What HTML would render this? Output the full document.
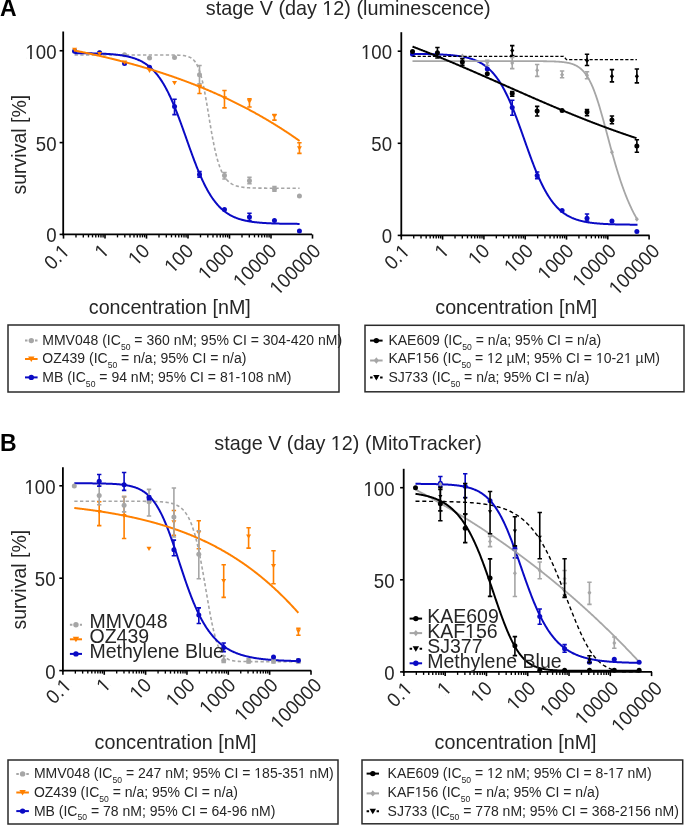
<!DOCTYPE html>
<html><head><meta charset="utf-8"><style>html,body{margin:0;padding:0;background:#fff}svg{display:block;will-change:transform}</style></head>
<body>
<svg width="685" height="825" viewBox="0 0 685 825" style="font-family:&quot;Liberation Sans&quot;,sans-serif">
<rect width="685" height="825" fill="#fff"/>
<text x="0" y="16.3" font-size="23" font-weight="bold" fill="#000">A</text>
<text x="348.2" y="15" text-anchor="middle" font-size="19.8" fill="#262626">stage V (day 12) (luminescence)</text>
<text x="0" y="450.5" font-size="23" font-weight="bold" fill="#000">B</text>
<text x="348" y="449.5" text-anchor="middle" font-size="19.8" fill="#262626">stage V (day 12) (MitoTracker)</text>
<path d="M63.2,31.5 V235.3" stroke="#000" stroke-width="1.8" fill="none"/>
<path d="M59.6,234.4 H63.2" stroke="#000" stroke-width="1.6"/>
<path d="M59.6,142.6 H63.2" stroke="#000" stroke-width="1.6"/>
<path d="M59.6,50.75 H63.2" stroke="#000" stroke-width="1.6"/>
<path d="M62.2,234.4 H312" stroke="#000" stroke-width="1.8"/>
<path d="M63.50,234.4 v4.2" stroke="#000" stroke-width="1.6"/>
<path d="M75.99,234.4 v3.0" stroke="#000" stroke-width="1.35"/>
<path d="M83.30,234.4 v3.0" stroke="#000" stroke-width="1.35"/>
<path d="M88.49,234.4 v3.0" stroke="#000" stroke-width="1.35"/>
<path d="M92.51,234.4 v3.0" stroke="#000" stroke-width="1.35"/>
<path d="M95.79,234.4 v3.0" stroke="#000" stroke-width="1.35"/>
<path d="M98.57,234.4 v3.0" stroke="#000" stroke-width="1.35"/>
<path d="M100.98,234.4 v3.0" stroke="#000" stroke-width="1.35"/>
<path d="M103.10,234.4 v3.0" stroke="#000" stroke-width="1.35"/>
<path d="M105.00,234.4 v4.2" stroke="#000" stroke-width="1.6"/>
<path d="M117.49,234.4 v3.0" stroke="#000" stroke-width="1.35"/>
<path d="M124.80,234.4 v3.0" stroke="#000" stroke-width="1.35"/>
<path d="M129.99,234.4 v3.0" stroke="#000" stroke-width="1.35"/>
<path d="M134.01,234.4 v3.0" stroke="#000" stroke-width="1.35"/>
<path d="M137.29,234.4 v3.0" stroke="#000" stroke-width="1.35"/>
<path d="M140.07,234.4 v3.0" stroke="#000" stroke-width="1.35"/>
<path d="M142.48,234.4 v3.0" stroke="#000" stroke-width="1.35"/>
<path d="M144.60,234.4 v3.0" stroke="#000" stroke-width="1.35"/>
<path d="M146.50,234.4 v4.2" stroke="#000" stroke-width="1.6"/>
<path d="M158.99,234.4 v3.0" stroke="#000" stroke-width="1.35"/>
<path d="M166.30,234.4 v3.0" stroke="#000" stroke-width="1.35"/>
<path d="M171.49,234.4 v3.0" stroke="#000" stroke-width="1.35"/>
<path d="M175.51,234.4 v3.0" stroke="#000" stroke-width="1.35"/>
<path d="M178.79,234.4 v3.0" stroke="#000" stroke-width="1.35"/>
<path d="M181.57,234.4 v3.0" stroke="#000" stroke-width="1.35"/>
<path d="M183.98,234.4 v3.0" stroke="#000" stroke-width="1.35"/>
<path d="M186.10,234.4 v3.0" stroke="#000" stroke-width="1.35"/>
<path d="M188.00,234.4 v4.2" stroke="#000" stroke-width="1.6"/>
<path d="M200.49,234.4 v3.0" stroke="#000" stroke-width="1.35"/>
<path d="M207.80,234.4 v3.0" stroke="#000" stroke-width="1.35"/>
<path d="M212.99,234.4 v3.0" stroke="#000" stroke-width="1.35"/>
<path d="M217.01,234.4 v3.0" stroke="#000" stroke-width="1.35"/>
<path d="M220.29,234.4 v3.0" stroke="#000" stroke-width="1.35"/>
<path d="M223.07,234.4 v3.0" stroke="#000" stroke-width="1.35"/>
<path d="M225.48,234.4 v3.0" stroke="#000" stroke-width="1.35"/>
<path d="M227.60,234.4 v3.0" stroke="#000" stroke-width="1.35"/>
<path d="M229.50,234.4 v4.2" stroke="#000" stroke-width="1.6"/>
<path d="M241.99,234.4 v3.0" stroke="#000" stroke-width="1.35"/>
<path d="M249.30,234.4 v3.0" stroke="#000" stroke-width="1.35"/>
<path d="M254.49,234.4 v3.0" stroke="#000" stroke-width="1.35"/>
<path d="M258.51,234.4 v3.0" stroke="#000" stroke-width="1.35"/>
<path d="M261.79,234.4 v3.0" stroke="#000" stroke-width="1.35"/>
<path d="M264.57,234.4 v3.0" stroke="#000" stroke-width="1.35"/>
<path d="M266.98,234.4 v3.0" stroke="#000" stroke-width="1.35"/>
<path d="M269.10,234.4 v3.0" stroke="#000" stroke-width="1.35"/>
<path d="M271.00,234.4 v4.2" stroke="#000" stroke-width="1.6"/>
<path d="M312.50,234.4 v4.2" stroke="#000" stroke-width="1.6"/>
<text transform="translate(56.5,242.30) scale(0.94,1)" text-anchor="end" font-size="19.8" fill="#262626">0</text>
<text transform="translate(56.5,150.50) scale(0.94,1)" text-anchor="end" font-size="19.8" fill="#262626">50</text>
<text transform="translate(56.5,58.65) scale(0.94,1)" text-anchor="end" font-size="19.8" fill="#262626">100</text>
<g transform="translate(56.5,58.65) scale(0.94,1)" fill="#fff"><rect x="-32.13" y="-2.08" width="4.02" height="2.78"/><rect x="-26.26" y="-2.08" width="3.87" height="2.78"/></g>
<text transform="translate(70.50,252.50) rotate(-45) scale(0.94,1)" text-anchor="end" font-size="19.8" fill="#262626">0.1</text>
<g transform="translate(70.50,252.50) rotate(-45) scale(0.94,1)" fill="#fff"><rect x="-10.10" y="-2.08" width="4.02" height="2.78"/><rect x="-4.23" y="-2.08" width="3.87" height="2.78"/></g>
<text transform="translate(110.00,252.10) rotate(-45) scale(0.94,1)" text-anchor="end" font-size="19.8" fill="#262626">1</text>
<g transform="translate(110.00,252.10) rotate(-45) scale(0.94,1)" fill="#fff"><rect x="-10.10" y="-2.08" width="4.02" height="2.78"/><rect x="-4.23" y="-2.08" width="3.87" height="2.78"/></g>
<text transform="translate(150.90,252.20) rotate(-45) scale(0.94,1)" text-anchor="end" font-size="19.8" fill="#262626">10</text>
<g transform="translate(150.90,252.20) rotate(-45) scale(0.94,1)" fill="#fff"><rect x="-21.12" y="-2.08" width="4.02" height="2.78"/><rect x="-15.24" y="-2.08" width="3.87" height="2.78"/></g>
<text transform="translate(194.50,252.30) rotate(-45) scale(0.94,1)" text-anchor="end" font-size="19.8" fill="#262626">100</text>
<g transform="translate(194.50,252.30) rotate(-45) scale(0.94,1)" fill="#fff"><rect x="-32.13" y="-2.08" width="4.02" height="2.78"/><rect x="-26.26" y="-2.08" width="3.87" height="2.78"/></g>
<text transform="translate(235.40,252.30) rotate(-45) scale(0.94,1)" text-anchor="end" font-size="19.8" fill="#262626">1000</text>
<g transform="translate(235.40,252.30) rotate(-45) scale(0.94,1)" fill="#fff"><rect x="-43.14" y="-2.08" width="4.02" height="2.78"/><rect x="-37.27" y="-2.08" width="3.87" height="2.78"/></g>
<text transform="translate(277.90,252.30) rotate(-45) scale(0.94,1)" text-anchor="end" font-size="19.8" fill="#262626">10000</text>
<g transform="translate(277.90,252.30) rotate(-45) scale(0.94,1)" fill="#fff"><rect x="-54.15" y="-2.08" width="4.02" height="2.78"/><rect x="-48.28" y="-2.08" width="3.87" height="2.78"/></g>
<text transform="translate(321.70,252.30) rotate(-45) scale(0.94,1)" text-anchor="end" font-size="19.8" fill="#262626">100000</text>
<g transform="translate(321.70,252.30) rotate(-45) scale(0.94,1)" fill="#fff"><rect x="-65.16" y="-2.08" width="4.02" height="2.78"/><rect x="-59.29" y="-2.08" width="3.87" height="2.78"/></g>
<path d="M74.60,54.97 L75.10,54.97 L75.60,54.97 L76.10,54.97 L76.60,54.97 L77.10,54.97 L77.60,54.97 L78.10,54.97 L78.60,54.97 L79.10,54.97 L79.60,54.97 L80.10,54.97 L80.60,54.97 L81.10,54.97 L81.60,54.97 L82.10,54.97 L82.60,54.97 L83.10,54.97 L83.60,54.97 L84.10,54.97 L84.60,54.97 L85.10,54.97 L85.60,54.97 L86.10,54.97 L86.60,54.97 L87.10,54.97 L87.60,54.97 L88.10,54.97 L88.60,54.97 L89.10,54.97 L89.60,54.97 L90.10,54.97 L90.60,54.97 L91.10,54.97 L91.60,54.97 L92.10,54.97 L92.60,54.97 L93.10,54.97 L93.60,54.97 L94.10,54.97 L94.60,54.97 L95.10,54.97 L95.60,54.97 L96.10,54.97 L96.60,54.97 L97.10,54.97 L97.60,54.97 L98.10,54.97 L98.60,54.97 L99.10,54.97 L99.60,54.97 L100.10,54.97 L100.60,54.97 L101.10,54.97 L101.60,54.97 L102.10,54.97 L102.60,54.97 L103.10,54.97 L103.60,54.97 L104.10,54.97 L104.60,54.97 L105.10,54.97 L105.60,54.97 L106.10,54.97 L106.60,54.97 L107.10,54.97 L107.60,54.97 L108.10,54.97 L108.60,54.97 L109.10,54.97 L109.60,54.97 L110.10,54.97 L110.60,54.97 L111.10,54.97 L111.60,54.97 L112.10,54.97 L112.60,54.97 L113.10,54.97 L113.60,54.97 L114.10,54.97 L114.60,54.97 L115.10,54.97 L115.60,54.97 L116.10,54.97 L116.60,54.97 L117.10,54.97 L117.60,54.97 L118.10,54.97 L118.60,54.97 L119.10,54.97 L119.60,54.97 L120.10,54.97 L120.60,54.97 L121.10,54.97 L121.60,54.97 L122.10,54.97 L122.60,54.97 L123.10,54.97 L123.60,54.97 L124.10,54.97 L124.60,54.97 L125.10,54.97 L125.60,54.97 L126.10,54.97 L126.60,54.97 L127.10,54.97 L127.60,54.97 L128.10,54.97 L128.60,54.97 L129.10,54.97 L129.60,54.97 L130.10,54.97 L130.60,54.97 L131.10,54.97 L131.60,54.97 L132.10,54.97 L132.60,54.97 L133.10,54.97 L133.60,54.97 L134.10,54.97 L134.60,54.97 L135.10,54.97 L135.60,54.97 L136.10,54.97 L136.60,54.97 L137.10,54.97 L137.60,54.97 L138.10,54.97 L138.60,54.97 L139.10,54.97 L139.60,54.97 L140.10,54.97 L140.60,54.97 L141.10,54.97 L141.60,54.97 L142.10,54.97 L142.60,54.97 L143.10,54.97 L143.60,54.97 L144.10,54.97 L144.60,54.97 L145.10,54.97 L145.60,54.97 L146.10,54.97 L146.60,54.97 L147.10,54.97 L147.60,54.97 L148.10,54.97 L148.60,54.97 L149.10,54.97 L149.60,54.97 L150.10,54.97 L150.60,54.97 L151.10,54.97 L151.60,54.97 L152.10,54.97 L152.60,54.97 L153.10,54.97 L153.60,54.97 L154.10,54.97 L154.60,54.97 L155.10,54.97 L155.60,54.97 L156.10,54.97 L156.60,54.97 L157.10,54.97 L157.60,54.97 L158.10,54.97 L158.60,54.97 L159.10,54.97 L159.60,54.97 L160.10,54.97 L160.60,54.97 L161.10,54.97 L161.60,54.97 L162.10,54.97 L162.60,54.97 L163.10,54.98 L163.60,54.98 L164.10,54.98 L164.60,54.98 L165.10,54.98 L165.60,54.98 L166.10,54.98 L166.60,54.98 L167.10,54.99 L167.60,54.99 L168.10,54.99 L168.60,54.99 L169.10,55.00 L169.60,55.00 L170.10,55.00 L170.60,55.01 L171.10,55.01 L171.60,55.01 L172.10,55.02 L172.60,55.03 L173.10,55.03 L173.60,55.04 L174.10,55.05 L174.60,55.06 L175.10,55.07 L175.60,55.08 L176.10,55.09 L176.60,55.11 L177.10,55.12 L177.60,55.14 L178.10,55.16 L178.60,55.18 L179.10,55.20 L179.60,55.23 L180.10,55.26 L180.60,55.29 L181.10,55.33 L181.60,55.37 L182.10,55.41 L182.60,55.46 L183.10,55.52 L183.60,55.58 L184.10,55.65 L184.60,55.73 L185.10,55.81 L185.60,55.91 L186.10,56.01 L186.60,56.13 L187.10,56.26 L187.60,56.40 L188.10,56.56 L188.60,56.74 L189.10,56.94 L189.60,57.15 L190.10,57.40 L190.60,57.66 L191.10,57.96 L191.60,58.29 L192.10,58.65 L192.60,59.05 L193.10,59.49 L193.60,59.98 L194.10,60.52 L194.60,61.11 L195.10,61.76 L195.60,62.47 L196.10,63.26 L196.60,64.11 L197.10,65.05 L197.60,66.07 L198.10,67.18 L198.60,68.39 L199.10,69.69 L199.60,71.11 L200.10,72.63 L200.60,74.27 L201.10,76.02 L201.60,77.89 L202.10,79.88 L202.60,81.99 L203.10,84.22 L203.60,86.57 L204.10,89.02 L204.60,91.58 L205.10,94.24 L205.60,96.99 L206.10,99.82 L206.60,102.71 L207.10,105.66 L207.60,108.65 L208.10,111.68 L208.60,114.71 L209.10,117.75 L209.60,120.78 L210.10,123.78 L210.60,126.75 L211.10,129.67 L211.60,132.53 L212.10,135.32 L212.60,138.04 L213.10,140.67 L213.60,143.22 L214.10,145.68 L214.60,148.05 L215.10,150.31 L215.60,152.49 L216.10,154.56 L216.60,156.54 L217.10,158.42 L217.60,160.20 L218.10,161.90 L218.60,163.50 L219.10,165.02 L219.60,166.45 L220.10,167.81 L220.60,169.08 L221.10,170.28 L221.60,171.42 L222.10,172.48 L222.60,173.48 L223.10,174.42 L223.60,175.30 L224.10,176.13 L224.60,176.91 L225.10,177.64 L225.60,178.32 L226.10,178.96 L226.60,179.56 L227.10,180.12 L227.60,180.64 L228.10,181.14 L228.60,181.60 L229.10,182.03 L229.60,182.43 L230.10,182.81 L230.60,183.16 L231.10,183.49 L231.60,183.80 L232.10,184.09 L232.60,184.36 L233.10,184.61 L233.60,184.85 L234.10,185.07 L234.60,185.27 L235.10,185.47 L235.60,185.65 L236.10,185.82 L236.60,185.97 L237.10,186.12 L237.60,186.26 L238.10,186.39 L238.60,186.51 L239.10,186.62 L239.60,186.72 L240.10,186.82 L240.60,186.91 L241.10,187.00 L241.60,187.08 L242.10,187.15 L242.60,187.22 L243.10,187.29 L243.60,187.35 L244.10,187.41 L244.60,187.46 L245.10,187.51 L245.60,187.56 L246.10,187.60 L246.60,187.64 L247.10,187.68 L247.60,187.71 L248.10,187.75 L248.60,187.78 L249.10,187.81 L249.60,187.83 L250.10,187.86 L250.60,187.88 L251.10,187.90 L251.60,187.92 L252.10,187.94 L252.60,187.96 L253.10,187.98 L253.60,187.99 L254.10,188.01 L254.60,188.02 L255.10,188.03 L255.60,188.05 L256.10,188.06 L256.60,188.07 L257.10,188.08 L257.60,188.09 L258.10,188.10 L258.60,188.10 L259.10,188.11 L259.60,188.12 L260.10,188.12 L260.60,188.13 L261.10,188.14 L261.60,188.14 L262.10,188.15 L262.60,188.15 L263.10,188.16 L263.60,188.16 L264.10,188.16 L264.60,188.17 L265.10,188.17 L265.60,188.17 L266.10,188.18 L266.60,188.18 L267.10,188.18 L267.60,188.18 L268.10,188.19 L268.60,188.19 L269.10,188.19 L269.60,188.19 L270.10,188.19 L270.60,188.19 L271.10,188.20 L271.60,188.20 L272.10,188.20 L272.60,188.20 L273.10,188.20 L273.60,188.20 L274.10,188.20 L274.60,188.20 L275.10,188.21 L275.60,188.21 L276.10,188.21 L276.60,188.21 L277.10,188.21 L277.60,188.21 L278.10,188.21 L278.60,188.21 L279.10,188.21 L279.60,188.21 L280.10,188.21 L280.60,188.21 L281.10,188.21 L281.60,188.21 L282.10,188.21 L282.60,188.21 L283.10,188.21 L283.60,188.21 L284.10,188.21 L284.60,188.21 L285.10,188.21 L285.60,188.21 L286.10,188.21 L286.60,188.21 L287.10,188.21 L287.60,188.21 L288.10,188.22 L288.60,188.22 L289.10,188.22 L289.60,188.22 L290.10,188.22 L290.60,188.22 L291.10,188.22 L291.60,188.22 L292.10,188.22 L292.60,188.22 L293.10,188.22 L293.60,188.22 L294.10,188.22 L294.60,188.22 L295.10,188.22 L295.60,188.22 L296.10,188.22 L296.60,188.22 L297.10,188.22 L297.60,188.22 L298.10,188.22 L298.60,188.22 L299.10,188.22 L299.60,188.22" fill="none" stroke="#a6a6a6" stroke-width="1.6" stroke-dasharray="3.3,2.4" stroke-linejoin="round"/>
<path d="M199.50,65.50 V83.90 M197.30,65.50 H201.70 M197.30,83.90 H201.70" stroke="#a6a6a6" stroke-width="1.6" fill="none"/>
<path d="M224.48,172.50 V179.00 M222.28,172.50 H226.68 M222.28,179.00 H226.68" stroke="#a6a6a6" stroke-width="1.6" fill="none"/>
<path d="M249.46,177.40 V183.70 M247.26,177.40 H251.66 M247.26,183.70 H251.66" stroke="#a6a6a6" stroke-width="1.6" fill="none"/>
<path d="M274.44,186.50 V191.20 M272.24,186.50 H276.64 M272.24,191.20 H276.64" stroke="#a6a6a6" stroke-width="1.6" fill="none"/>
<circle cx="74.60" cy="50.75" r="2.5" fill="#a6a6a6"/>
<circle cx="99.58" cy="52.70" r="2.5" fill="#a6a6a6"/>
<circle cx="124.56" cy="54.70" r="2.5" fill="#a6a6a6"/>
<circle cx="149.54" cy="58.00" r="2.5" fill="#a6a6a6"/>
<circle cx="174.52" cy="57.40" r="2.5" fill="#a6a6a6"/>
<circle cx="199.50" cy="74.70" r="2.5" fill="#a6a6a6"/>
<circle cx="224.48" cy="175.50" r="2.5" fill="#a6a6a6"/>
<circle cx="249.46" cy="180.70" r="2.5" fill="#a6a6a6"/>
<circle cx="274.44" cy="188.90" r="2.5" fill="#a6a6a6"/>
<circle cx="299.42" cy="195.90" r="2.5" fill="#a6a6a6"/>
<path d="M74.60,53.14 L75.10,53.14 L75.60,53.14 L76.10,53.15 L76.60,53.15 L77.10,53.16 L77.60,53.16 L78.10,53.16 L78.60,53.17 L79.10,53.17 L79.60,53.18 L80.10,53.18 L80.60,53.19 L81.10,53.19 L81.60,53.20 L82.10,53.20 L82.60,53.21 L83.10,53.22 L83.60,53.22 L84.10,53.23 L84.60,53.24 L85.10,53.24 L85.60,53.25 L86.10,53.26 L86.60,53.26 L87.10,53.27 L87.60,53.28 L88.10,53.29 L88.60,53.30 L89.10,53.31 L89.60,53.32 L90.10,53.32 L90.60,53.33 L91.10,53.34 L91.60,53.35 L92.10,53.37 L92.60,53.38 L93.10,53.39 L93.60,53.40 L94.10,53.41 L94.60,53.43 L95.10,53.44 L95.60,53.45 L96.10,53.47 L96.60,53.48 L97.10,53.50 L97.60,53.51 L98.10,53.53 L98.60,53.54 L99.10,53.56 L99.60,53.58 L100.10,53.60 L100.60,53.62 L101.10,53.64 L101.60,53.66 L102.10,53.68 L102.60,53.70 L103.10,53.72 L103.60,53.74 L104.10,53.77 L104.60,53.79 L105.10,53.82 L105.60,53.84 L106.10,53.87 L106.60,53.90 L107.10,53.93 L107.60,53.96 L108.10,53.99 L108.60,54.02 L109.10,54.06 L109.60,54.09 L110.10,54.12 L110.60,54.16 L111.10,54.20 L111.60,54.24 L112.10,54.28 L112.60,54.32 L113.10,54.36 L113.60,54.41 L114.10,54.45 L114.60,54.50 L115.10,54.55 L115.60,54.60 L116.10,54.65 L116.60,54.71 L117.10,54.76 L117.60,54.82 L118.10,54.88 L118.60,54.94 L119.10,55.00 L119.60,55.07 L120.10,55.14 L120.60,55.21 L121.10,55.28 L121.60,55.35 L122.10,55.43 L122.60,55.51 L123.10,55.59 L123.60,55.68 L124.10,55.77 L124.60,55.86 L125.10,55.95 L125.60,56.05 L126.10,56.15 L126.60,56.25 L127.10,56.35 L127.60,56.46 L128.10,56.58 L128.60,56.69 L129.10,56.81 L129.60,56.94 L130.10,57.07 L130.60,57.20 L131.10,57.34 L131.60,57.48 L132.10,57.62 L132.60,57.77 L133.10,57.93 L133.60,58.09 L134.10,58.25 L134.60,58.42 L135.10,58.60 L135.60,58.78 L136.10,58.97 L136.60,59.16 L137.10,59.36 L137.60,59.56 L138.10,59.77 L138.60,59.99 L139.10,60.22 L139.60,60.45 L140.10,60.69 L140.60,60.93 L141.10,61.18 L141.60,61.44 L142.10,61.71 L142.60,61.99 L143.10,62.28 L143.60,62.57 L144.10,62.87 L144.60,63.18 L145.10,63.50 L145.60,63.83 L146.10,64.17 L146.60,64.52 L147.10,64.88 L147.60,65.25 L148.10,65.64 L148.60,66.03 L149.10,66.43 L149.60,66.84 L150.10,67.27 L150.60,67.71 L151.10,68.16 L151.60,68.62 L152.10,69.10 L152.60,69.59 L153.10,70.09 L153.60,70.60 L154.10,71.13 L154.60,71.67 L155.10,72.23 L155.60,72.80 L156.10,73.39 L156.60,73.99 L157.10,74.61 L157.60,75.24 L158.10,75.89 L158.60,76.55 L159.10,77.23 L159.60,77.92 L160.10,78.64 L160.60,79.37 L161.10,80.11 L161.60,80.87 L162.10,81.65 L162.60,82.45 L163.10,83.27 L163.60,84.10 L164.10,84.95 L164.60,85.82 L165.10,86.70 L165.60,87.61 L166.10,88.53 L166.60,89.47 L167.10,90.43 L167.60,91.40 L168.10,92.40 L168.60,93.41 L169.10,94.44 L169.60,95.49 L170.10,96.55 L170.60,97.64 L171.10,98.74 L171.60,99.85 L172.10,100.99 L172.60,102.14 L173.10,103.30 L173.60,104.49 L174.10,105.68 L174.60,106.90 L175.10,108.13 L175.60,109.37 L176.10,110.63 L176.60,111.90 L177.10,113.18 L177.60,114.48 L178.10,115.79 L178.60,117.11 L179.10,118.44 L179.60,119.78 L180.10,121.13 L180.60,122.50 L181.10,123.86 L181.60,125.24 L182.10,126.63 L182.60,128.02 L183.10,129.41 L183.60,130.81 L184.10,132.22 L184.60,133.63 L185.10,135.04 L185.60,136.45 L186.10,137.87 L186.60,139.28 L187.10,140.70 L187.60,142.11 L188.10,143.52 L188.60,144.93 L189.10,146.33 L189.60,147.73 L190.10,149.13 L190.60,150.52 L191.10,151.90 L191.60,153.28 L192.10,154.65 L192.60,156.01 L193.10,157.36 L193.60,158.70 L194.10,160.03 L194.60,161.35 L195.10,162.66 L195.60,163.95 L196.10,165.24 L196.60,166.51 L197.10,167.76 L197.60,169.00 L198.10,170.23 L198.60,171.44 L199.10,172.64 L199.60,173.82 L200.10,174.99 L200.60,176.14 L201.10,177.27 L201.60,178.38 L202.10,179.48 L202.60,180.56 L203.10,181.63 L203.60,182.67 L204.10,183.70 L204.60,184.71 L205.10,185.70 L205.60,186.68 L206.10,187.63 L206.60,188.57 L207.10,189.49 L207.60,190.40 L208.10,191.28 L208.60,192.15 L209.10,193.00 L209.60,193.83 L210.10,194.64 L210.60,195.44 L211.10,196.21 L211.60,196.98 L212.10,197.72 L212.60,198.45 L213.10,199.16 L213.60,199.85 L214.10,200.53 L214.60,201.19 L215.10,201.84 L215.60,202.47 L216.10,203.08 L216.60,203.68 L217.10,204.27 L217.60,204.84 L218.10,205.39 L218.60,205.94 L219.10,206.46 L219.60,206.98 L220.10,207.48 L220.60,207.96 L221.10,208.44 L221.60,208.90 L222.10,209.35 L222.60,209.79 L223.10,210.21 L223.60,210.62 L224.10,211.03 L224.60,211.42 L225.10,211.80 L225.60,212.17 L226.10,212.53 L226.60,212.87 L227.10,213.21 L227.60,213.54 L228.10,213.86 L228.60,214.17 L229.10,214.48 L229.60,214.77 L230.10,215.05 L230.60,215.33 L231.10,215.60 L231.60,215.86 L232.10,216.11 L232.60,216.35 L233.10,216.59 L233.60,216.82 L234.10,217.05 L234.60,217.26 L235.10,217.47 L235.60,217.68 L236.10,217.88 L236.60,218.07 L237.10,218.25 L237.60,218.44 L238.10,218.61 L238.60,218.78 L239.10,218.94 L239.60,219.10 L240.10,219.26 L240.60,219.41 L241.10,219.55 L241.60,219.69 L242.10,219.83 L242.60,219.96 L243.10,220.09 L243.60,220.21 L244.10,220.33 L244.60,220.45 L245.10,220.56 L245.60,220.67 L246.10,220.78 L246.60,220.88 L247.10,220.98 L247.60,221.08 L248.10,221.17 L248.60,221.26 L249.10,221.35 L249.60,221.43 L250.10,221.51 L250.60,221.59 L251.10,221.67 L251.60,221.74 L252.10,221.82 L252.60,221.89 L253.10,221.95 L253.60,222.02 L254.10,222.08 L254.60,222.14 L255.10,222.20 L255.60,222.26 L256.10,222.32 L256.60,222.37 L257.10,222.42 L257.60,222.47 L258.10,222.52 L258.60,222.57 L259.10,222.61 L259.60,222.66 L260.10,222.70 L260.60,222.74 L261.10,222.78 L261.60,222.82 L262.10,222.86 L262.60,222.90 L263.10,222.93 L263.60,222.97 L264.10,223.00 L264.60,223.03 L265.10,223.06 L265.60,223.09 L266.10,223.12 L266.60,223.15 L267.10,223.18 L267.60,223.20 L268.10,223.23 L268.60,223.25 L269.10,223.28 L269.60,223.30 L270.10,223.32 L270.60,223.34 L271.10,223.36 L271.60,223.38 L272.10,223.40 L272.60,223.42 L273.10,223.44 L273.60,223.46 L274.10,223.47 L274.60,223.49 L275.10,223.51 L275.60,223.52 L276.10,223.54 L276.60,223.55 L277.10,223.57 L277.60,223.58 L278.10,223.59 L278.60,223.61 L279.10,223.62 L279.60,223.63 L280.10,223.64 L280.60,223.65 L281.10,223.66 L281.60,223.67 L282.10,223.68 L282.60,223.69 L283.10,223.70 L283.60,223.71 L284.10,223.72 L284.60,223.73 L285.10,223.74 L285.60,223.75 L286.10,223.75 L286.60,223.76 L287.10,223.77 L287.60,223.78 L288.10,223.78 L288.60,223.79 L289.10,223.80 L289.60,223.80 L290.10,223.81 L290.60,223.81 L291.10,223.82 L291.60,223.82 L292.10,223.83 L292.60,223.83 L293.10,223.84 L293.60,223.84 L294.10,223.85 L294.60,223.85 L295.10,223.86 L295.60,223.86 L296.10,223.87 L296.60,223.87 L297.10,223.87 L297.60,223.88 L298.10,223.88 L298.60,223.88 L299.10,223.89 L299.60,223.89" fill="none" stroke="#0a0ac4" stroke-width="2.0" stroke-linejoin="round"/>
<path d="M174.52,99.30 V114.60 M172.32,99.30 H176.72 M172.32,114.60 H176.72" stroke="#0a0ac4" stroke-width="1.6" fill="none"/>
<path d="M199.50,171.60 V177.20 M197.30,171.60 H201.70 M197.30,177.20 H201.70" stroke="#0a0ac4" stroke-width="1.6" fill="none"/>
<path d="M249.46,213.20 V220.50 M247.26,213.20 H251.66 M247.26,220.50 H251.66" stroke="#0a0ac4" stroke-width="1.6" fill="none"/>
<circle cx="74.60" cy="51.20" r="2.5" fill="#0a0ac4"/>
<circle cx="99.58" cy="52.70" r="2.5" fill="#0a0ac4"/>
<circle cx="124.56" cy="63.50" r="2.5" fill="#0a0ac4"/>
<circle cx="149.54" cy="67.20" r="2.5" fill="#0a0ac4"/>
<circle cx="174.52" cy="106.40" r="2.5" fill="#0a0ac4"/>
<circle cx="199.50" cy="174.40" r="2.5" fill="#0a0ac4"/>
<circle cx="224.48" cy="209.60" r="2.5" fill="#0a0ac4"/>
<circle cx="249.46" cy="217.00" r="2.5" fill="#0a0ac4"/>
<circle cx="274.44" cy="220.40" r="2.5" fill="#0a0ac4"/>
<circle cx="299.42" cy="230.90" r="2.5" fill="#0a0ac4"/>
<path d="M74.60,50.53 L75.10,50.63 L75.60,50.73 L76.10,50.83 L76.60,50.93 L77.10,51.03 L77.60,51.13 L78.10,51.23 L78.60,51.34 L79.10,51.44 L79.60,51.54 L80.10,51.64 L80.60,51.75 L81.10,51.85 L81.60,51.95 L82.10,52.06 L82.60,52.16 L83.10,52.26 L83.60,52.37 L84.10,52.47 L84.60,52.58 L85.10,52.68 L85.60,52.79 L86.10,52.89 L86.60,53.00 L87.10,53.11 L87.60,53.21 L88.10,53.32 L88.60,53.43 L89.10,53.54 L89.60,53.64 L90.10,53.75 L90.60,53.86 L91.10,53.97 L91.60,54.08 L92.10,54.19 L92.60,54.30 L93.10,54.41 L93.60,54.52 L94.10,54.63 L94.60,54.74 L95.10,54.85 L95.60,54.96 L96.10,55.08 L96.60,55.19 L97.10,55.30 L97.60,55.42 L98.10,55.53 L98.60,55.64 L99.10,55.76 L99.60,55.87 L100.10,55.99 L100.60,56.10 L101.10,56.22 L101.60,56.33 L102.10,56.45 L102.60,56.56 L103.10,56.68 L103.60,56.80 L104.10,56.91 L104.60,57.03 L105.10,57.15 L105.60,57.27 L106.10,57.39 L106.60,57.51 L107.10,57.63 L107.60,57.75 L108.10,57.86 L108.60,57.99 L109.10,58.11 L109.60,58.23 L110.10,58.35 L110.60,58.47 L111.10,58.59 L111.60,58.71 L112.10,58.84 L112.60,58.96 L113.10,59.08 L113.60,59.21 L114.10,59.33 L114.60,59.46 L115.10,59.58 L115.60,59.71 L116.10,59.83 L116.60,59.96 L117.10,60.08 L117.60,60.21 L118.10,60.34 L118.60,60.46 L119.10,60.59 L119.60,60.72 L120.10,60.85 L120.60,60.98 L121.10,61.11 L121.60,61.24 L122.10,61.37 L122.60,61.50 L123.10,61.63 L123.60,61.76 L124.10,61.89 L124.60,62.02 L125.10,62.15 L125.60,62.29 L126.10,62.42 L126.60,62.55 L127.10,62.69 L127.60,62.82 L128.10,62.95 L128.60,63.09 L129.10,63.22 L129.60,63.36 L130.10,63.50 L130.60,63.63 L131.10,63.77 L131.60,63.91 L132.10,64.04 L132.60,64.18 L133.10,64.32 L133.60,64.46 L134.10,64.60 L134.60,64.74 L135.10,64.88 L135.60,65.02 L136.10,65.16 L136.60,65.30 L137.10,65.44 L137.60,65.58 L138.10,65.72 L138.60,65.87 L139.10,66.01 L139.60,66.15 L140.10,66.30 L140.60,66.44 L141.10,66.58 L141.60,66.73 L142.10,66.88 L142.60,67.02 L143.10,67.17 L143.60,67.31 L144.10,67.46 L144.60,67.61 L145.10,67.76 L145.60,67.91 L146.10,68.05 L146.60,68.20 L147.10,68.35 L147.60,68.50 L148.10,68.65 L148.60,68.80 L149.10,68.96 L149.60,69.11 L150.10,69.26 L150.60,69.41 L151.10,69.57 L151.60,69.72 L152.10,69.87 L152.60,70.03 L153.10,70.18 L153.60,70.34 L154.10,70.49 L154.60,70.65 L155.10,70.81 L155.60,70.96 L156.10,71.12 L156.60,71.28 L157.10,71.44 L157.60,71.60 L158.10,71.75 L158.60,71.91 L159.10,72.07 L159.60,72.23 L160.10,72.40 L160.60,72.56 L161.10,72.72 L161.60,72.88 L162.10,73.04 L162.60,73.21 L163.10,73.37 L163.60,73.54 L164.10,73.70 L164.60,73.87 L165.10,74.03 L165.60,74.20 L166.10,74.36 L166.60,74.53 L167.10,74.70 L167.60,74.87 L168.10,75.04 L168.60,75.21 L169.10,75.37 L169.60,75.54 L170.10,75.72 L170.60,75.89 L171.10,76.06 L171.60,76.23 L172.10,76.40 L172.60,76.57 L173.10,76.75 L173.60,76.92 L174.10,77.10 L174.60,77.27 L175.10,77.45 L175.60,77.62 L176.10,77.80 L176.60,77.98 L177.10,78.15 L177.60,78.33 L178.10,78.51 L178.60,78.69 L179.10,78.87 L179.60,79.05 L180.10,79.23 L180.60,79.41 L181.10,79.59 L181.60,79.77 L182.10,79.95 L182.60,80.14 L183.10,80.32 L183.60,80.50 L184.10,80.69 L184.60,80.87 L185.10,81.06 L185.60,81.25 L186.10,81.43 L186.60,81.62 L187.10,81.81 L187.60,82.00 L188.10,82.18 L188.60,82.37 L189.10,82.56 L189.60,82.75 L190.10,82.94 L190.60,83.14 L191.10,83.33 L191.60,83.52 L192.10,83.71 L192.60,83.91 L193.10,84.10 L193.60,84.30 L194.10,84.49 L194.60,84.69 L195.10,84.88 L195.60,85.08 L196.10,85.28 L196.60,85.48 L197.10,85.68 L197.60,85.87 L198.10,86.07 L198.60,86.27 L199.10,86.48 L199.60,86.68 L200.10,86.88 L200.60,87.08 L201.10,87.28 L201.60,87.49 L202.10,87.69 L202.60,87.90 L203.10,88.10 L203.60,88.31 L204.10,88.52 L204.60,88.72 L205.10,88.93 L205.60,89.14 L206.10,89.35 L206.60,89.56 L207.10,89.77 L207.60,89.98 L208.10,90.19 L208.60,90.40 L209.10,90.61 L209.60,90.83 L210.10,91.04 L210.60,91.26 L211.10,91.47 L211.60,91.69 L212.10,91.90 L212.60,92.12 L213.10,92.34 L213.60,92.55 L214.10,92.77 L214.60,92.99 L215.10,93.21 L215.60,93.43 L216.10,93.65 L216.60,93.88 L217.10,94.10 L217.60,94.32 L218.10,94.55 L218.60,94.77 L219.10,94.99 L219.60,95.22 L220.10,95.45 L220.60,95.67 L221.10,95.90 L221.60,96.13 L222.10,96.36 L222.60,96.59 L223.10,96.82 L223.60,97.05 L224.10,97.28 L224.60,97.51 L225.10,97.74 L225.60,97.98 L226.10,98.21 L226.60,98.45 L227.10,98.68 L227.60,98.92 L228.10,99.15 L228.60,99.39 L229.10,99.63 L229.60,99.87 L230.10,100.11 L230.60,100.35 L231.10,100.59 L231.60,100.83 L232.10,101.07 L232.60,101.32 L233.10,101.56 L233.60,101.80 L234.10,102.05 L234.60,102.29 L235.10,102.54 L235.60,102.79 L236.10,103.04 L236.60,103.28 L237.10,103.53 L237.60,103.78 L238.10,104.03 L238.60,104.28 L239.10,104.54 L239.60,104.79 L240.10,105.04 L240.60,105.30 L241.10,105.55 L241.60,105.81 L242.10,106.06 L242.60,106.32 L243.10,106.58 L243.60,106.84 L244.10,107.09 L244.60,107.35 L245.10,107.62 L245.60,107.88 L246.10,108.14 L246.60,108.40 L247.10,108.67 L247.60,108.93 L248.10,109.19 L248.60,109.46 L249.10,109.73 L249.60,109.99 L250.10,110.26 L250.60,110.53 L251.10,110.80 L251.60,111.07 L252.10,111.34 L252.60,111.61 L253.10,111.89 L253.60,112.16 L254.10,112.44 L254.60,112.71 L255.10,112.99 L255.60,113.26 L256.10,113.54 L256.60,113.82 L257.10,114.10 L257.60,114.38 L258.10,114.66 L258.60,114.94 L259.10,115.22 L259.60,115.50 L260.10,115.79 L260.60,116.07 L261.10,116.36 L261.60,116.64 L262.10,116.93 L262.60,117.22 L263.10,117.51 L263.60,117.80 L264.10,118.09 L264.60,118.38 L265.10,118.67 L265.60,118.96 L266.10,119.26 L266.60,119.55 L267.10,119.84 L267.60,120.14 L268.10,120.44 L268.60,120.74 L269.10,121.03 L269.60,121.33 L270.10,121.63 L270.60,121.93 L271.10,122.24 L271.60,122.54 L272.10,122.84 L272.60,123.15 L273.10,123.45 L273.60,123.76 L274.10,124.07 L274.60,124.37 L275.10,124.68 L275.60,124.99 L276.10,125.30 L276.60,125.62 L277.10,125.93 L277.60,126.24 L278.10,126.55 L278.60,126.87 L279.10,127.19 L279.60,127.50 L280.10,127.82 L280.60,128.14 L281.10,128.46 L281.60,128.78 L282.10,129.10 L282.60,129.42 L283.10,129.75 L283.60,130.07 L284.10,130.39 L284.60,130.72 L285.10,131.05 L285.60,131.38 L286.10,131.70 L286.60,132.03 L287.10,132.36 L287.60,132.70 L288.10,133.03 L288.60,133.36 L289.10,133.70 L289.60,134.03 L290.10,134.37 L290.60,134.70 L291.10,135.04 L291.60,135.38 L292.10,135.72 L292.60,136.06 L293.10,136.40 L293.60,136.75 L294.10,137.09 L294.60,137.44 L295.10,137.78 L295.60,138.13 L296.10,138.48 L296.60,138.83 L297.10,139.18 L297.60,139.53 L298.10,139.88 L298.60,140.23 L299.10,140.58 L299.60,140.94" fill="none" stroke="#ff8000" stroke-width="2.0" stroke-linejoin="round"/>
<path d="M199.50,85.40 V93.50 M197.30,85.40 H201.70 M197.30,93.50 H201.70" stroke="#ff8000" stroke-width="1.6" fill="none"/>
<path d="M224.48,90.50 V107.90 M222.28,90.50 H226.68 M222.28,107.90 H226.68" stroke="#ff8000" stroke-width="1.6" fill="none"/>
<path d="M249.46,98.90 V107.00 M247.26,98.90 H251.66 M247.26,107.00 H251.66" stroke="#ff8000" stroke-width="1.6" fill="none"/>
<path d="M274.44,114.60 V120.10 M272.24,114.60 H276.64 M272.24,120.10 H276.64" stroke="#ff8000" stroke-width="1.6" fill="none"/>
<path d="M299.42,142.80 V153.40 M297.22,142.80 H301.62 M297.22,153.40 H301.62" stroke="#ff8000" stroke-width="1.6" fill="none"/>
<path d="M72.10,47.69 L77.10,47.69 L74.60,51.94 Z" fill="#ff8000"/>
<path d="M97.08,51.99 L102.08,51.99 L99.58,56.24 Z" fill="#ff8000"/>
<path d="M122.06,60.59 L127.06,60.59 L124.56,64.84 Z" fill="#ff8000"/>
<path d="M147.04,68.79 L152.04,68.79 L149.54,73.04 Z" fill="#ff8000"/>
<path d="M172.02,80.99 L177.02,80.99 L174.52,85.24 Z" fill="#ff8000"/>
<path d="M197.00,85.49 L202.00,85.49 L199.50,89.74 Z" fill="#ff8000"/>
<path d="M221.98,96.29 L226.98,96.29 L224.48,100.54 Z" fill="#ff8000"/>
<path d="M246.96,99.39 L251.96,99.39 L249.46,103.64 Z" fill="#ff8000"/>
<path d="M271.94,114.09 L276.94,114.09 L274.44,118.34 Z" fill="#ff8000"/>
<path d="M296.92,146.29 L301.92,146.29 L299.42,150.54 Z" fill="#ff8000"/>
<path d="M401.3,32.2 V236.3" stroke="#000" stroke-width="1.8" fill="none"/>
<path d="M397.7,235.4 H401.3" stroke="#000" stroke-width="1.6"/>
<path d="M397.7,143.3 H401.3" stroke="#000" stroke-width="1.6"/>
<path d="M397.7,51.2 H401.3" stroke="#000" stroke-width="1.6"/>
<path d="M400.3,235.4 H649.6" stroke="#000" stroke-width="1.8"/>
<path d="M401.30,235.4 v4.2" stroke="#000" stroke-width="1.6"/>
<path d="M413.73,235.4 v3.0" stroke="#000" stroke-width="1.35"/>
<path d="M421.01,235.4 v3.0" stroke="#000" stroke-width="1.35"/>
<path d="M426.17,235.4 v3.0" stroke="#000" stroke-width="1.35"/>
<path d="M430.17,235.4 v3.0" stroke="#000" stroke-width="1.35"/>
<path d="M433.44,235.4 v3.0" stroke="#000" stroke-width="1.35"/>
<path d="M436.20,235.4 v3.0" stroke="#000" stroke-width="1.35"/>
<path d="M438.60,235.4 v3.0" stroke="#000" stroke-width="1.35"/>
<path d="M440.71,235.4 v3.0" stroke="#000" stroke-width="1.35"/>
<path d="M442.60,235.4 v4.2" stroke="#000" stroke-width="1.6"/>
<path d="M455.03,235.4 v3.0" stroke="#000" stroke-width="1.35"/>
<path d="M462.31,235.4 v3.0" stroke="#000" stroke-width="1.35"/>
<path d="M467.47,235.4 v3.0" stroke="#000" stroke-width="1.35"/>
<path d="M471.47,235.4 v3.0" stroke="#000" stroke-width="1.35"/>
<path d="M474.74,235.4 v3.0" stroke="#000" stroke-width="1.35"/>
<path d="M477.50,235.4 v3.0" stroke="#000" stroke-width="1.35"/>
<path d="M479.90,235.4 v3.0" stroke="#000" stroke-width="1.35"/>
<path d="M482.01,235.4 v3.0" stroke="#000" stroke-width="1.35"/>
<path d="M483.90,235.4 v4.2" stroke="#000" stroke-width="1.6"/>
<path d="M496.33,235.4 v3.0" stroke="#000" stroke-width="1.35"/>
<path d="M503.61,235.4 v3.0" stroke="#000" stroke-width="1.35"/>
<path d="M508.77,235.4 v3.0" stroke="#000" stroke-width="1.35"/>
<path d="M512.77,235.4 v3.0" stroke="#000" stroke-width="1.35"/>
<path d="M516.04,235.4 v3.0" stroke="#000" stroke-width="1.35"/>
<path d="M518.80,235.4 v3.0" stroke="#000" stroke-width="1.35"/>
<path d="M521.20,235.4 v3.0" stroke="#000" stroke-width="1.35"/>
<path d="M523.31,235.4 v3.0" stroke="#000" stroke-width="1.35"/>
<path d="M525.20,235.4 v4.2" stroke="#000" stroke-width="1.6"/>
<path d="M537.63,235.4 v3.0" stroke="#000" stroke-width="1.35"/>
<path d="M544.91,235.4 v3.0" stroke="#000" stroke-width="1.35"/>
<path d="M550.07,235.4 v3.0" stroke="#000" stroke-width="1.35"/>
<path d="M554.07,235.4 v3.0" stroke="#000" stroke-width="1.35"/>
<path d="M557.34,235.4 v3.0" stroke="#000" stroke-width="1.35"/>
<path d="M560.10,235.4 v3.0" stroke="#000" stroke-width="1.35"/>
<path d="M562.50,235.4 v3.0" stroke="#000" stroke-width="1.35"/>
<path d="M564.61,235.4 v3.0" stroke="#000" stroke-width="1.35"/>
<path d="M566.50,235.4 v4.2" stroke="#000" stroke-width="1.6"/>
<path d="M578.93,235.4 v3.0" stroke="#000" stroke-width="1.35"/>
<path d="M586.21,235.4 v3.0" stroke="#000" stroke-width="1.35"/>
<path d="M591.37,235.4 v3.0" stroke="#000" stroke-width="1.35"/>
<path d="M595.37,235.4 v3.0" stroke="#000" stroke-width="1.35"/>
<path d="M598.64,235.4 v3.0" stroke="#000" stroke-width="1.35"/>
<path d="M601.40,235.4 v3.0" stroke="#000" stroke-width="1.35"/>
<path d="M603.80,235.4 v3.0" stroke="#000" stroke-width="1.35"/>
<path d="M605.91,235.4 v3.0" stroke="#000" stroke-width="1.35"/>
<path d="M607.80,235.4 v4.2" stroke="#000" stroke-width="1.6"/>
<path d="M649.10,235.4 v4.2" stroke="#000" stroke-width="1.6"/>
<text transform="translate(392,243.30) scale(0.94,1)" text-anchor="end" font-size="19.8" fill="#262626">0</text>
<text transform="translate(392,151.20) scale(0.94,1)" text-anchor="end" font-size="19.8" fill="#262626">50</text>
<text transform="translate(392,59.10) scale(0.94,1)" text-anchor="end" font-size="19.8" fill="#262626">100</text>
<g transform="translate(392,59.10) scale(0.94,1)" fill="#fff"><rect x="-32.13" y="-2.08" width="4.02" height="2.78"/><rect x="-26.26" y="-2.08" width="3.87" height="2.78"/></g>
<text transform="translate(410.80,252.50) rotate(-45) scale(0.94,1)" text-anchor="end" font-size="19.8" fill="#262626">0.1</text>
<g transform="translate(410.80,252.50) rotate(-45) scale(0.94,1)" fill="#fff"><rect x="-10.10" y="-2.08" width="4.02" height="2.78"/><rect x="-4.23" y="-2.08" width="3.87" height="2.78"/></g>
<text transform="translate(450.10,252.10) rotate(-45) scale(0.94,1)" text-anchor="end" font-size="19.8" fill="#262626">1</text>
<g transform="translate(450.10,252.10) rotate(-45) scale(0.94,1)" fill="#fff"><rect x="-10.10" y="-2.08" width="4.02" height="2.78"/><rect x="-4.23" y="-2.08" width="3.87" height="2.78"/></g>
<text transform="translate(490.80,252.20) rotate(-45) scale(0.94,1)" text-anchor="end" font-size="19.8" fill="#262626">10</text>
<g transform="translate(490.80,252.20) rotate(-45) scale(0.94,1)" fill="#fff"><rect x="-21.12" y="-2.08" width="4.02" height="2.78"/><rect x="-15.24" y="-2.08" width="3.87" height="2.78"/></g>
<text transform="translate(534.20,252.30) rotate(-45) scale(0.94,1)" text-anchor="end" font-size="19.8" fill="#262626">100</text>
<g transform="translate(534.20,252.30) rotate(-45) scale(0.94,1)" fill="#fff"><rect x="-32.13" y="-2.08" width="4.02" height="2.78"/><rect x="-26.26" y="-2.08" width="3.87" height="2.78"/></g>
<text transform="translate(574.90,252.30) rotate(-45) scale(0.94,1)" text-anchor="end" font-size="19.8" fill="#262626">1000</text>
<g transform="translate(574.90,252.30) rotate(-45) scale(0.94,1)" fill="#fff"><rect x="-43.14" y="-2.08" width="4.02" height="2.78"/><rect x="-37.27" y="-2.08" width="3.87" height="2.78"/></g>
<text transform="translate(617.20,252.30) rotate(-45) scale(0.94,1)" text-anchor="end" font-size="19.8" fill="#262626">10000</text>
<g transform="translate(617.20,252.30) rotate(-45) scale(0.94,1)" fill="#fff"><rect x="-54.15" y="-2.08" width="4.02" height="2.78"/><rect x="-48.28" y="-2.08" width="3.87" height="2.78"/></g>
<text transform="translate(660.80,252.30) rotate(-45) scale(0.94,1)" text-anchor="end" font-size="19.8" fill="#262626">100000</text>
<g transform="translate(660.80,252.30) rotate(-45) scale(0.94,1)" fill="#fff"><rect x="-65.16" y="-2.08" width="4.02" height="2.78"/><rect x="-59.29" y="-2.08" width="3.87" height="2.78"/></g>
<path d="M412.50,53.94 L413.00,53.94 L413.50,53.94 L414.00,53.95 L414.50,53.95 L415.00,53.96 L415.50,53.96 L416.00,53.96 L416.50,53.97 L417.00,53.97 L417.50,53.98 L418.00,53.98 L418.50,53.99 L419.00,53.99 L419.50,54.00 L420.00,54.00 L420.50,54.01 L421.00,54.02 L421.50,54.02 L422.00,54.03 L422.50,54.04 L423.00,54.04 L423.50,54.05 L424.00,54.06 L424.50,54.06 L425.00,54.07 L425.50,54.08 L426.00,54.09 L426.50,54.10 L427.00,54.11 L427.50,54.12 L428.00,54.12 L428.50,54.13 L429.00,54.14 L429.50,54.15 L430.00,54.17 L430.50,54.18 L431.00,54.19 L431.50,54.20 L432.00,54.21 L432.50,54.23 L433.00,54.24 L433.50,54.25 L434.00,54.27 L434.50,54.28 L435.00,54.30 L435.50,54.31 L436.00,54.33 L436.50,54.34 L437.00,54.36 L437.50,54.38 L438.00,54.40 L438.50,54.42 L439.00,54.44 L439.50,54.46 L440.00,54.48 L440.50,54.50 L441.00,54.52 L441.50,54.54 L442.00,54.57 L442.50,54.59 L443.00,54.62 L443.50,54.64 L444.00,54.67 L444.50,54.70 L445.00,54.73 L445.50,54.76 L446.00,54.79 L446.50,54.82 L447.00,54.86 L447.50,54.89 L448.00,54.92 L448.50,54.96 L449.00,55.00 L449.50,55.04 L450.00,55.08 L450.50,55.12 L451.00,55.16 L451.50,55.21 L452.00,55.25 L452.50,55.30 L453.00,55.35 L453.50,55.40 L454.00,55.45 L454.50,55.51 L455.00,55.56 L455.50,55.62 L456.00,55.68 L456.50,55.74 L457.00,55.80 L457.50,55.87 L458.00,55.94 L458.50,56.01 L459.00,56.08 L459.50,56.15 L460.00,56.23 L460.50,56.31 L461.00,56.39 L461.50,56.48 L462.00,56.57 L462.50,56.66 L463.00,56.75 L463.50,56.85 L464.00,56.95 L464.50,57.05 L465.00,57.15 L465.50,57.26 L466.00,57.38 L466.50,57.49 L467.00,57.61 L467.50,57.74 L468.00,57.87 L468.50,58.00 L469.00,58.14 L469.50,58.28 L470.00,58.42 L470.50,58.57 L471.00,58.73 L471.50,58.89 L472.00,59.05 L472.50,59.22 L473.00,59.40 L473.50,59.58 L474.00,59.77 L474.50,59.96 L475.00,60.16 L475.50,60.36 L476.00,60.57 L476.50,60.79 L477.00,61.02 L477.50,61.25 L478.00,61.49 L478.50,61.73 L479.00,61.98 L479.50,62.24 L480.00,62.51 L480.50,62.79 L481.00,63.08 L481.50,63.37 L482.00,63.67 L482.50,63.98 L483.00,64.30 L483.50,64.63 L484.00,64.97 L484.50,65.32 L485.00,65.68 L485.50,66.05 L486.00,66.44 L486.50,66.83 L487.00,67.23 L487.50,67.64 L488.00,68.07 L488.50,68.51 L489.00,68.96 L489.50,69.42 L490.00,69.90 L490.50,70.39 L491.00,70.89 L491.50,71.40 L492.00,71.93 L492.50,72.47 L493.00,73.03 L493.50,73.60 L494.00,74.19 L494.50,74.79 L495.00,75.41 L495.50,76.04 L496.00,76.69 L496.50,77.35 L497.00,78.03 L497.50,78.72 L498.00,79.44 L498.50,80.17 L499.00,80.91 L499.50,81.67 L500.00,82.45 L500.50,83.25 L501.00,84.07 L501.50,84.90 L502.00,85.75 L502.50,86.62 L503.00,87.50 L503.50,88.41 L504.00,89.33 L504.50,90.27 L505.00,91.23 L505.50,92.20 L506.00,93.20 L506.50,94.21 L507.00,95.24 L507.50,96.29 L508.00,97.35 L508.50,98.44 L509.00,99.54 L509.50,100.65 L510.00,101.79 L510.50,102.94 L511.00,104.10 L511.50,105.29 L512.00,106.48 L512.50,107.70 L513.00,108.93 L513.50,110.17 L514.00,111.43 L514.50,112.70 L515.00,113.98 L515.50,115.28 L516.00,116.59 L516.50,117.91 L517.00,119.24 L517.50,120.58 L518.00,121.93 L518.50,123.30 L519.00,124.66 L519.50,126.04 L520.00,127.43 L520.50,128.82 L521.00,130.21 L521.50,131.61 L522.00,133.02 L522.50,134.43 L523.00,135.84 L523.50,137.25 L524.00,138.67 L524.50,140.08 L525.00,141.50 L525.50,142.91 L526.00,144.32 L526.50,145.73 L527.00,147.13 L527.50,148.53 L528.00,149.93 L528.50,151.32 L529.00,152.70 L529.50,154.08 L530.00,155.45 L530.50,156.81 L531.00,158.16 L531.50,159.50 L532.00,160.83 L532.50,162.15 L533.00,163.46 L533.50,164.75 L534.00,166.04 L534.50,167.31 L535.00,168.56 L535.50,169.80 L536.00,171.03 L536.50,172.24 L537.00,173.44 L537.50,174.62 L538.00,175.79 L538.50,176.94 L539.00,178.07 L539.50,179.18 L540.00,180.28 L540.50,181.36 L541.00,182.43 L541.50,183.47 L542.00,184.50 L542.50,185.51 L543.00,186.50 L543.50,187.48 L544.00,188.43 L544.50,189.37 L545.00,190.29 L545.50,191.20 L546.00,192.08 L546.50,192.95 L547.00,193.80 L547.50,194.63 L548.00,195.44 L548.50,196.24 L549.00,197.01 L549.50,197.78 L550.00,198.52 L550.50,199.25 L551.00,199.96 L551.50,200.65 L552.00,201.33 L552.50,201.99 L553.00,202.64 L553.50,203.27 L554.00,203.88 L554.50,204.48 L555.00,205.07 L555.50,205.64 L556.00,206.19 L556.50,206.74 L557.00,207.26 L557.50,207.78 L558.00,208.28 L558.50,208.76 L559.00,209.24 L559.50,209.70 L560.00,210.15 L560.50,210.59 L561.00,211.01 L561.50,211.42 L562.00,211.83 L562.50,212.22 L563.00,212.60 L563.50,212.97 L564.00,213.33 L564.50,213.67 L565.00,214.01 L565.50,214.34 L566.00,214.66 L566.50,214.97 L567.00,215.28 L567.50,215.57 L568.00,215.85 L568.50,216.13 L569.00,216.40 L569.50,216.66 L570.00,216.91 L570.50,217.15 L571.00,217.39 L571.50,217.62 L572.00,217.85 L572.50,218.06 L573.00,218.27 L573.50,218.48 L574.00,218.68 L574.50,218.87 L575.00,219.05 L575.50,219.24 L576.00,219.41 L576.50,219.58 L577.00,219.74 L577.50,219.90 L578.00,220.06 L578.50,220.21 L579.00,220.35 L579.50,220.49 L580.00,220.63 L580.50,220.76 L581.00,220.89 L581.50,221.01 L582.00,221.13 L582.50,221.25 L583.00,221.36 L583.50,221.47 L584.00,221.58 L584.50,221.68 L585.00,221.78 L585.50,221.88 L586.00,221.97 L586.50,222.06 L587.00,222.15 L587.50,222.23 L588.00,222.31 L588.50,222.39 L589.00,222.47 L589.50,222.54 L590.00,222.62 L590.50,222.69 L591.00,222.75 L591.50,222.82 L592.00,222.88 L592.50,222.94 L593.00,223.00 L593.50,223.06 L594.00,223.12 L594.50,223.17 L595.00,223.22 L595.50,223.27 L596.00,223.32 L596.50,223.37 L597.00,223.41 L597.50,223.46 L598.00,223.50 L598.50,223.54 L599.00,223.58 L599.50,223.62 L600.00,223.66 L600.50,223.70 L601.00,223.73 L601.50,223.77 L602.00,223.80 L602.50,223.83 L603.00,223.86 L603.50,223.89 L604.00,223.92 L604.50,223.95 L605.00,223.98 L605.50,224.00 L606.00,224.03 L606.50,224.05 L607.00,224.08 L607.50,224.10 L608.00,224.12 L608.50,224.14 L609.00,224.16 L609.50,224.18 L610.00,224.20 L610.50,224.22 L611.00,224.24 L611.50,224.26 L612.00,224.27 L612.50,224.29 L613.00,224.31 L613.50,224.32 L614.00,224.34 L614.50,224.35 L615.00,224.37 L615.50,224.38 L616.00,224.39 L616.50,224.41 L617.00,224.42 L617.50,224.43 L618.00,224.44 L618.50,224.45 L619.00,224.46 L619.50,224.47 L620.00,224.48 L620.50,224.49 L621.00,224.50 L621.50,224.51 L622.00,224.52 L622.50,224.53 L623.00,224.54 L623.50,224.55 L624.00,224.55 L624.50,224.56 L625.00,224.57 L625.50,224.58 L626.00,224.58 L626.50,224.59 L627.00,224.60 L627.50,224.60 L628.00,224.61 L628.50,224.61 L629.00,224.62 L629.50,224.62 L630.00,224.63 L630.50,224.63 L631.00,224.64 L631.50,224.64 L632.00,224.65 L632.50,224.65 L633.00,224.66 L633.50,224.66 L634.00,224.67 L634.50,224.67 L635.00,224.67 L635.50,224.68 L636.00,224.68 L636.50,224.68 L637.00,224.69 L637.50,224.69" fill="none" stroke="#0a0ac4" stroke-width="2.0"/>
<path d="M512.22,100.30 V115.20 M510.02,100.30 H514.42 M510.02,115.20 H514.42" stroke="#0a0ac4" stroke-width="1.6" fill="none"/>
<path d="M537.15,172.00 V178.60 M534.95,172.00 H539.35 M534.95,178.60 H539.35" stroke="#0a0ac4" stroke-width="1.6" fill="none"/>
<path d="M587.01,214.00 V221.00 M584.81,214.00 H589.21 M584.81,221.00 H589.21" stroke="#0a0ac4" stroke-width="1.6" fill="none"/>
<circle cx="412.50" cy="54.30" r="2.5" fill="#0a0ac4"/>
<circle cx="487.29" cy="69.00" r="2.5" fill="#0a0ac4"/>
<circle cx="512.22" cy="107.40" r="2.5" fill="#0a0ac4"/>
<circle cx="537.15" cy="175.50" r="2.5" fill="#0a0ac4"/>
<circle cx="562.08" cy="210.60" r="2.5" fill="#0a0ac4"/>
<circle cx="587.01" cy="218.30" r="2.5" fill="#0a0ac4"/>
<circle cx="611.94" cy="221.10" r="2.5" fill="#0a0ac4"/>
<circle cx="636.87" cy="231.60" r="2.5" fill="#0a0ac4"/>
<path d="M412.50,61.14 L413.00,61.14 L413.50,61.14 L414.00,61.14 L414.50,61.14 L415.00,61.14 L415.50,61.14 L416.00,61.14 L416.50,61.14 L417.00,61.14 L417.50,61.14 L418.00,61.14 L418.50,61.14 L419.00,61.14 L419.50,61.14 L420.00,61.14 L420.50,61.14 L421.00,61.14 L421.50,61.14 L422.00,61.14 L422.50,61.14 L423.00,61.14 L423.50,61.14 L424.00,61.14 L424.50,61.14 L425.00,61.14 L425.50,61.14 L426.00,61.14 L426.50,61.14 L427.00,61.14 L427.50,61.14 L428.00,61.14 L428.50,61.14 L429.00,61.14 L429.50,61.14 L430.00,61.14 L430.50,61.14 L431.00,61.14 L431.50,61.14 L432.00,61.14 L432.50,61.14 L433.00,61.14 L433.50,61.14 L434.00,61.14 L434.50,61.14 L435.00,61.14 L435.50,61.14 L436.00,61.14 L436.50,61.14 L437.00,61.14 L437.50,61.14 L438.00,61.14 L438.50,61.14 L439.00,61.14 L439.50,61.14 L440.00,61.14 L440.50,61.14 L441.00,61.14 L441.50,61.14 L442.00,61.14 L442.50,61.14 L443.00,61.14 L443.50,61.14 L444.00,61.14 L444.50,61.14 L445.00,61.14 L445.50,61.14 L446.00,61.14 L446.50,61.14 L447.00,61.14 L447.50,61.14 L448.00,61.14 L448.50,61.14 L449.00,61.14 L449.50,61.14 L450.00,61.14 L450.50,61.14 L451.00,61.14 L451.50,61.14 L452.00,61.14 L452.50,61.14 L453.00,61.14 L453.50,61.14 L454.00,61.14 L454.50,61.14 L455.00,61.14 L455.50,61.14 L456.00,61.14 L456.50,61.14 L457.00,61.14 L457.50,61.14 L458.00,61.14 L458.50,61.14 L459.00,61.14 L459.50,61.14 L460.00,61.14 L460.50,61.14 L461.00,61.14 L461.50,61.14 L462.00,61.14 L462.50,61.14 L463.00,61.14 L463.50,61.14 L464.00,61.14 L464.50,61.14 L465.00,61.14 L465.50,61.14 L466.00,61.14 L466.50,61.14 L467.00,61.14 L467.50,61.14 L468.00,61.14 L468.50,61.14 L469.00,61.14 L469.50,61.14 L470.00,61.14 L470.50,61.14 L471.00,61.14 L471.50,61.14 L472.00,61.14 L472.50,61.14 L473.00,61.14 L473.50,61.14 L474.00,61.14 L474.50,61.14 L475.00,61.14 L475.50,61.14 L476.00,61.14 L476.50,61.14 L477.00,61.14 L477.50,61.14 L478.00,61.14 L478.50,61.14 L479.00,61.14 L479.50,61.14 L480.00,61.14 L480.50,61.14 L481.00,61.14 L481.50,61.14 L482.00,61.14 L482.50,61.14 L483.00,61.14 L483.50,61.14 L484.00,61.14 L484.50,61.14 L485.00,61.14 L485.50,61.14 L486.00,61.14 L486.50,61.14 L487.00,61.14 L487.50,61.14 L488.00,61.14 L488.50,61.14 L489.00,61.14 L489.50,61.14 L490.00,61.14 L490.50,61.14 L491.00,61.14 L491.50,61.14 L492.00,61.14 L492.50,61.14 L493.00,61.14 L493.50,61.14 L494.00,61.14 L494.50,61.14 L495.00,61.14 L495.50,61.14 L496.00,61.14 L496.50,61.14 L497.00,61.14 L497.50,61.14 L498.00,61.14 L498.50,61.14 L499.00,61.14 L499.50,61.14 L500.00,61.14 L500.50,61.14 L501.00,61.14 L501.50,61.14 L502.00,61.14 L502.50,61.14 L503.00,61.14 L503.50,61.14 L504.00,61.14 L504.50,61.14 L505.00,61.14 L505.50,61.14 L506.00,61.14 L506.50,61.14 L507.00,61.14 L507.50,61.14 L508.00,61.14 L508.50,61.14 L509.00,61.14 L509.50,61.14 L510.00,61.14 L510.50,61.14 L511.00,61.14 L511.50,61.14 L512.00,61.14 L512.50,61.14 L513.00,61.14 L513.50,61.14 L514.00,61.14 L514.50,61.14 L515.00,61.14 L515.50,61.14 L516.00,61.14 L516.50,61.14 L517.00,61.14 L517.50,61.14 L518.00,61.14 L518.50,61.14 L519.00,61.14 L519.50,61.14 L520.00,61.14 L520.50,61.14 L521.00,61.14 L521.50,61.14 L522.00,61.15 L522.50,61.15 L523.00,61.15 L523.50,61.15 L524.00,61.15 L524.50,61.15 L525.00,61.15 L525.50,61.15 L526.00,61.15 L526.50,61.15 L527.00,61.15 L527.50,61.15 L528.00,61.15 L528.50,61.15 L529.00,61.15 L529.50,61.16 L530.00,61.16 L530.50,61.16 L531.00,61.16 L531.50,61.16 L532.00,61.16 L532.50,61.16 L533.00,61.16 L533.50,61.17 L534.00,61.17 L534.50,61.17 L535.00,61.17 L535.50,61.17 L536.00,61.18 L536.50,61.18 L537.00,61.18 L537.50,61.18 L538.00,61.19 L538.50,61.19 L539.00,61.19 L539.50,61.19 L540.00,61.20 L540.50,61.20 L541.00,61.21 L541.50,61.21 L542.00,61.21 L542.50,61.22 L543.00,61.22 L543.50,61.23 L544.00,61.23 L544.50,61.24 L545.00,61.25 L545.50,61.25 L546.00,61.26 L546.50,61.27 L547.00,61.28 L547.50,61.29 L548.00,61.29 L548.50,61.30 L549.00,61.31 L549.50,61.33 L550.00,61.34 L550.50,61.35 L551.00,61.36 L551.50,61.38 L552.00,61.39 L552.50,61.41 L553.00,61.42 L553.50,61.44 L554.00,61.46 L554.50,61.48 L555.00,61.50 L555.50,61.52 L556.00,61.55 L556.50,61.57 L557.00,61.60 L557.50,61.63 L558.00,61.66 L558.50,61.69 L559.00,61.73 L559.50,61.76 L560.00,61.80 L560.50,61.84 L561.00,61.89 L561.50,61.93 L562.00,61.98 L562.50,62.03 L563.00,62.09 L563.50,62.15 L564.00,62.21 L564.50,62.28 L565.00,62.35 L565.50,62.42 L566.00,62.50 L566.50,62.58 L567.00,62.67 L567.50,62.77 L568.00,62.87 L568.50,62.97 L569.00,63.08 L569.50,63.20 L570.00,63.33 L570.50,63.46 L571.00,63.60 L571.50,63.75 L572.00,63.91 L572.50,64.08 L573.00,64.26 L573.50,64.44 L574.00,64.64 L574.50,64.85 L575.00,65.08 L575.50,65.31 L576.00,65.56 L576.50,65.82 L577.00,66.10 L577.50,66.39 L578.00,66.70 L578.50,67.03 L579.00,67.37 L579.50,67.74 L580.00,68.12 L580.50,68.52 L581.00,68.95 L581.50,69.40 L582.00,69.87 L582.50,70.36 L583.00,70.88 L583.50,71.43 L584.00,72.00 L584.50,72.60 L585.00,73.23 L585.50,73.89 L586.00,74.58 L586.50,75.30 L587.00,76.06 L587.50,76.85 L588.00,77.67 L588.50,78.53 L589.00,79.42 L589.50,80.35 L590.00,81.32 L590.50,82.32 L591.00,83.37 L591.50,84.45 L592.00,85.56 L592.50,86.72 L593.00,87.92 L593.50,89.15 L594.00,90.43 L594.50,91.74 L595.00,93.09 L595.50,94.47 L596.00,95.89 L596.50,97.35 L597.00,98.84 L597.50,100.37 L598.00,101.93 L598.50,103.52 L599.00,105.14 L599.50,106.79 L600.00,108.47 L600.50,110.17 L601.00,111.89 L601.50,113.64 L602.00,115.41 L602.50,117.20 L603.00,119.00 L603.50,120.82 L604.00,122.66 L604.50,124.50 L605.00,126.36 L605.50,128.22 L606.00,130.09 L606.50,131.96 L607.00,133.83 L607.50,135.71 L608.00,137.58 L608.50,139.46 L609.00,141.33 L609.50,143.19 L610.00,145.05 L610.50,146.89 L611.00,148.73 L611.50,150.56 L612.00,152.38 L612.50,154.18 L613.00,155.97 L613.50,157.74 L614.00,159.50 L614.50,161.25 L615.00,162.97 L615.50,164.68 L616.00,166.37 L616.50,168.04 L617.00,169.70 L617.50,171.33 L618.00,172.94 L618.50,174.53 L619.00,176.10 L619.50,177.65 L620.00,179.18 L620.50,180.69 L621.00,182.18 L621.50,183.64 L622.00,185.09 L622.50,186.51 L623.00,187.91 L623.50,189.29 L624.00,190.65 L624.50,191.98 L625.00,193.30 L625.50,194.59 L626.00,195.86 L626.50,197.12 L627.00,198.35 L627.50,199.56 L628.00,200.75 L628.50,201.92 L629.00,203.07 L629.50,204.20 L630.00,205.31 L630.50,206.41 L631.00,207.48 L631.50,208.54 L632.00,209.57 L632.50,210.59 L633.00,211.59 L633.50,212.57 L634.00,213.54 L634.50,214.48 L635.00,215.42 L635.50,216.33 L636.00,217.23 L636.50,218.11" fill="none" stroke="#a6a6a6" stroke-width="1.8" stroke-linejoin="round"/>
<path d="M487.29,60.40 V65.50 M485.09,60.40 H489.49 M485.09,65.50 H489.49" stroke="#a6a6a6" stroke-width="1.6" fill="none"/>
<path d="M512.22,57.50 V68.60 M510.02,57.50 H514.42 M510.02,68.60 H514.42" stroke="#a6a6a6" stroke-width="1.6" fill="none"/>
<path d="M537.15,64.50 V76.40 M534.95,64.50 H539.35 M534.95,76.40 H539.35" stroke="#a6a6a6" stroke-width="1.6" fill="none"/>
<path d="M562.08,71.00 V77.80 M559.88,71.00 H564.28 M559.88,77.80 H564.28" stroke="#a6a6a6" stroke-width="1.6" fill="none"/>
<path d="M587.01,71.70 V78.80 M584.81,71.70 H589.21 M584.81,78.80 H589.21" stroke="#a6a6a6" stroke-width="1.6" fill="none"/>
<path d="M437.43,51.50 L439.43,54.00 L437.43,56.50 L435.43,54.00 Z" fill="#a6a6a6"/>
<path d="M462.36,53.50 L464.36,56.00 L462.36,58.50 L460.36,56.00 Z" fill="#a6a6a6"/>
<path d="M487.29,60.00 L489.29,62.50 L487.29,65.00 L485.29,62.50 Z" fill="#a6a6a6"/>
<path d="M512.22,60.50 L514.22,63.00 L512.22,65.50 L510.22,63.00 Z" fill="#a6a6a6"/>
<path d="M537.15,67.70 L539.15,70.20 L537.15,72.70 L535.15,70.20 Z" fill="#a6a6a6"/>
<path d="M562.08,72.20 L564.08,74.70 L562.08,77.20 L560.08,74.70 Z" fill="#a6a6a6"/>
<path d="M587.01,72.70 L589.01,75.20 L587.01,77.70 L585.01,75.20 Z" fill="#a6a6a6"/>
<path d="M611.94,149.70 L613.94,152.20 L611.94,154.70 L609.94,152.20 Z" fill="#a6a6a6"/>
<path d="M636.87,216.70 L638.87,219.20 L636.87,221.70 L634.87,219.20 Z" fill="#a6a6a6"/>
<path d="M412.5,56.3 H563.5 L566.5,59.6 H636.9" fill="none" stroke="#000" stroke-width="1.3" stroke-dasharray="3.2,1.9"/>
<path d="M512.22,45.60 V55.50 M510.02,45.60 H514.42 M510.02,55.50 H514.42" stroke="#000" stroke-width="1.6" fill="none"/>
<path d="M587.01,54.30 V65.50 M584.81,54.30 H589.21 M584.81,65.50 H589.21" stroke="#000" stroke-width="1.6" fill="none"/>
<path d="M611.94,69.60 V81.90 M609.74,69.60 H614.14 M609.74,81.90 H614.14" stroke="#000" stroke-width="1.6" fill="none"/>
<path d="M636.87,69.00 V82.90 M634.67,69.00 H639.07 M634.67,82.90 H639.07" stroke="#000" stroke-width="1.6" fill="none"/>
<path d="M512.22,47.90 L514.30,50.50 L512.22,53.10 L510.14,50.50 Z" fill="#000"/>
<path d="M587.01,57.80 L589.09,60.40 L587.01,63.00 L584.93,60.40 Z" fill="#000"/>
<path d="M611.94,73.70 L614.02,76.30 L611.94,78.90 L609.86,76.30 Z" fill="#000"/>
<path d="M636.87,73.70 L638.95,76.30 L636.87,78.90 L634.79,76.30 Z" fill="#000"/>
<path d="M412.50,46.57 L413.00,46.76 L413.50,46.95 L414.00,47.14 L414.50,47.33 L415.00,47.52 L415.50,47.71 L416.00,47.90 L416.50,48.10 L417.00,48.29 L417.50,48.48 L418.00,48.67 L418.50,48.86 L419.00,49.06 L419.50,49.25 L420.00,49.45 L420.50,49.64 L421.00,49.83 L421.50,50.03 L422.00,50.22 L422.50,50.42 L423.00,50.61 L423.50,50.81 L424.00,51.01 L424.50,51.20 L425.00,51.40 L425.50,51.60 L426.00,51.79 L426.50,51.99 L427.00,52.19 L427.50,52.39 L428.00,52.58 L428.50,52.78 L429.00,52.98 L429.50,53.18 L430.00,53.38 L430.50,53.58 L431.00,53.78 L431.50,53.98 L432.00,54.18 L432.50,54.38 L433.00,54.58 L433.50,54.78 L434.00,54.98 L434.50,55.19 L435.00,55.39 L435.50,55.59 L436.00,55.79 L436.50,55.99 L437.00,56.20 L437.50,56.40 L438.00,56.60 L438.50,56.81 L439.00,57.01 L439.50,57.22 L440.00,57.42 L440.50,57.63 L441.00,57.83 L441.50,58.04 L442.00,58.24 L442.50,58.45 L443.00,58.65 L443.50,58.86 L444.00,59.07 L444.50,59.27 L445.00,59.48 L445.50,59.69 L446.00,59.89 L446.50,60.10 L447.00,60.31 L447.50,60.52 L448.00,60.72 L448.50,60.93 L449.00,61.14 L449.50,61.35 L450.00,61.56 L450.50,61.77 L451.00,61.98 L451.50,62.19 L452.00,62.40 L452.50,62.61 L453.00,62.82 L453.50,63.03 L454.00,63.24 L454.50,63.45 L455.00,63.66 L455.50,63.87 L456.00,64.08 L456.50,64.30 L457.00,64.51 L457.50,64.72 L458.00,64.93 L458.50,65.14 L459.00,65.36 L459.50,65.57 L460.00,65.78 L460.50,65.99 L461.00,66.21 L461.50,66.42 L462.00,66.64 L462.50,66.85 L463.00,67.06 L463.50,67.28 L464.00,67.49 L464.50,67.71 L465.00,67.92 L465.50,68.14 L466.00,68.35 L466.50,68.57 L467.00,68.78 L467.50,69.00 L468.00,69.21 L468.50,69.43 L469.00,69.64 L469.50,69.86 L470.00,70.07 L470.50,70.29 L471.00,70.51 L471.50,70.72 L472.00,70.94 L472.50,71.16 L473.00,71.37 L473.50,71.59 L474.00,71.81 L474.50,72.03 L475.00,72.24 L475.50,72.46 L476.00,72.68 L476.50,72.90 L477.00,73.11 L477.50,73.33 L478.00,73.55 L478.50,73.77 L479.00,73.99 L479.50,74.21 L480.00,74.42 L480.50,74.64 L481.00,74.86 L481.50,75.08 L482.00,75.30 L482.50,75.52 L483.00,75.74 L483.50,75.96 L484.00,76.18 L484.50,76.40 L485.00,76.62 L485.50,76.83 L486.00,77.05 L486.50,77.27 L487.00,77.49 L487.50,77.71 L488.00,77.93 L488.50,78.15 L489.00,78.37 L489.50,78.59 L490.00,78.81 L490.50,79.03 L491.00,79.26 L491.50,79.48 L492.00,79.70 L492.50,79.92 L493.00,80.14 L493.50,80.36 L494.00,80.58 L494.50,80.80 L495.00,81.02 L495.50,81.24 L496.00,81.46 L496.50,81.68 L497.00,81.90 L497.50,82.12 L498.00,82.35 L498.50,82.57 L499.00,82.79 L499.50,83.01 L500.00,83.23 L500.50,83.45 L501.00,83.67 L501.50,83.89 L502.00,84.11 L502.50,84.34 L503.00,84.56 L503.50,84.78 L504.00,85.00 L504.50,85.22 L505.00,85.44 L505.50,85.66 L506.00,85.88 L506.50,86.11 L507.00,86.33 L507.50,86.55 L508.00,86.77 L508.50,86.99 L509.00,87.21 L509.50,87.43 L510.00,87.65 L510.50,87.87 L511.00,88.10 L511.50,88.32 L512.00,88.54 L512.50,88.76 L513.00,88.98 L513.50,89.20 L514.00,89.42 L514.50,89.64 L515.00,89.86 L515.50,90.08 L516.00,90.31 L516.50,90.53 L517.00,90.75 L517.50,90.97 L518.00,91.19 L518.50,91.41 L519.00,91.63 L519.50,91.85 L520.00,92.07 L520.50,92.29 L521.00,92.51 L521.50,92.73 L522.00,92.95 L522.50,93.17 L523.00,93.39 L523.50,93.61 L524.00,93.83 L524.50,94.05 L525.00,94.27 L525.50,94.49 L526.00,94.71 L526.50,94.93 L527.00,95.15 L527.50,95.37 L528.00,95.59 L528.50,95.81 L529.00,96.03 L529.50,96.24 L530.00,96.46 L530.50,96.68 L531.00,96.90 L531.50,97.12 L532.00,97.34 L532.50,97.56 L533.00,97.77 L533.50,97.99 L534.00,98.21 L534.50,98.43 L535.00,98.65 L535.50,98.86 L536.00,99.08 L536.50,99.30 L537.00,99.52 L537.50,99.73 L538.00,99.95 L538.50,100.17 L539.00,100.38 L539.50,100.60 L540.00,100.82 L540.50,101.03 L541.00,101.25 L541.50,101.47 L542.00,101.68 L542.50,101.90 L543.00,102.11 L543.50,102.33 L544.00,102.54 L544.50,102.76 L545.00,102.97 L545.50,103.19 L546.00,103.40 L546.50,103.62 L547.00,103.83 L547.50,104.05 L548.00,104.26 L548.50,104.47 L549.00,104.69 L549.50,104.90 L550.00,105.11 L550.50,105.33 L551.00,105.54 L551.50,105.75 L552.00,105.97 L552.50,106.18 L553.00,106.39 L553.50,106.60 L554.00,106.82 L554.50,107.03 L555.00,107.24 L555.50,107.45 L556.00,107.66 L556.50,107.87 L557.00,108.08 L557.50,108.29 L558.00,108.50 L558.50,108.71 L559.00,108.92 L559.50,109.13 L560.00,109.34 L560.50,109.55 L561.00,109.76 L561.50,109.97 L562.00,110.18 L562.50,110.39 L563.00,110.60 L563.50,110.80 L564.00,111.01 L564.50,111.22 L565.00,111.43 L565.50,111.63 L566.00,111.84 L566.50,112.05 L567.00,112.25 L567.50,112.46 L568.00,112.67 L568.50,112.87 L569.00,113.08 L569.50,113.28 L570.00,113.49 L570.50,113.69 L571.00,113.90 L571.50,114.10 L572.00,114.31 L572.50,114.51 L573.00,114.71 L573.50,114.92 L574.00,115.12 L574.50,115.32 L575.00,115.53 L575.50,115.73 L576.00,115.93 L576.50,116.13 L577.00,116.33 L577.50,116.54 L578.00,116.74 L578.50,116.94 L579.00,117.14 L579.50,117.34 L580.00,117.54 L580.50,117.74 L581.00,117.94 L581.50,118.14 L582.00,118.34 L582.50,118.53 L583.00,118.73 L583.50,118.93 L584.00,119.13 L584.50,119.33 L585.00,119.52 L585.50,119.72 L586.00,119.92 L586.50,120.11 L587.00,120.31 L587.50,120.51 L588.00,120.70 L588.50,120.90 L589.00,121.09 L589.50,121.29 L590.00,121.48 L590.50,121.68 L591.00,121.87 L591.50,122.06 L592.00,122.26 L592.50,122.45 L593.00,122.64 L593.50,122.83 L594.00,123.03 L594.50,123.22 L595.00,123.41 L595.50,123.60 L596.00,123.79 L596.50,123.98 L597.00,124.17 L597.50,124.36 L598.00,124.55 L598.50,124.74 L599.00,124.93 L599.50,125.12 L600.00,125.31 L600.50,125.50 L601.00,125.68 L601.50,125.87 L602.00,126.06 L602.50,126.25 L603.00,126.43 L603.50,126.62 L604.00,126.80 L604.50,126.99 L605.00,127.17 L605.50,127.36 L606.00,127.54 L606.50,127.73 L607.00,127.91 L607.50,128.10 L608.00,128.28 L608.50,128.46 L609.00,128.65 L609.50,128.83 L610.00,129.01 L610.50,129.19 L611.00,129.37 L611.50,129.55 L612.00,129.73 L612.50,129.91 L613.00,130.09 L613.50,130.27 L614.00,130.45 L614.50,130.63 L615.00,130.81 L615.50,130.99 L616.00,131.17 L616.50,131.34 L617.00,131.52 L617.50,131.70 L618.00,131.88 L618.50,132.05 L619.00,132.23 L619.50,132.40 L620.00,132.58 L620.50,132.75 L621.00,132.93 L621.50,133.10 L622.00,133.28 L622.50,133.45 L623.00,133.62 L623.50,133.80 L624.00,133.97 L624.50,134.14 L625.00,134.31 L625.50,134.48 L626.00,134.65 L626.50,134.83 L627.00,135.00 L627.50,135.17 L628.00,135.34 L628.50,135.50 L629.00,135.67 L629.50,135.84 L630.00,136.01 L630.50,136.18 L631.00,136.35 L631.50,136.51 L632.00,136.68 L632.50,136.85 L633.00,137.01 L633.50,137.18 L634.00,137.34 L634.50,137.51 L635.00,137.67 L635.50,137.84 L636.00,138.00 L636.50,138.17" fill="none" stroke="#000" stroke-width="2.0" stroke-linejoin="round"/>
<path d="M437.43,47.50 V58.00 M435.23,47.50 H439.63 M435.23,58.00 H439.63" stroke="#000" stroke-width="1.6" fill="none"/>
<path d="M462.36,58.70 V65.20 M460.16,58.70 H464.56 M460.16,65.20 H464.56" stroke="#000" stroke-width="1.6" fill="none"/>
<path d="M512.22,91.50 V96.20 M510.02,91.50 H514.42 M510.02,96.20 H514.42" stroke="#000" stroke-width="1.6" fill="none"/>
<path d="M537.15,106.40 V116.00 M534.95,106.40 H539.35 M534.95,116.00 H539.35" stroke="#000" stroke-width="1.6" fill="none"/>
<path d="M587.01,109.50 V115.60 M584.81,109.50 H589.21 M584.81,115.60 H589.21" stroke="#000" stroke-width="1.6" fill="none"/>
<path d="M611.94,116.00 V123.80 M609.74,116.00 H614.14 M609.74,123.80 H614.14" stroke="#000" stroke-width="1.6" fill="none"/>
<path d="M636.87,139.80 V152.20 M634.67,139.80 H639.07 M634.67,152.20 H639.07" stroke="#000" stroke-width="1.6" fill="none"/>
<circle cx="412.50" cy="51.40" r="2.5" fill="#000"/>
<circle cx="437.43" cy="52.70" r="2.5" fill="#000"/>
<circle cx="462.36" cy="61.90" r="2.5" fill="#000"/>
<circle cx="487.29" cy="73.80" r="2.5" fill="#000"/>
<circle cx="512.22" cy="93.50" r="2.5" fill="#000"/>
<circle cx="537.15" cy="111.10" r="2.5" fill="#000"/>
<circle cx="562.08" cy="110.50" r="2.5" fill="#000"/>
<circle cx="587.01" cy="112.00" r="2.5" fill="#000"/>
<circle cx="611.94" cy="120.10" r="2.5" fill="#000"/>
<circle cx="636.87" cy="145.90" r="2.5" fill="#000"/>
<path d="M62.9,467.2 V671.5" stroke="#000" stroke-width="1.8" fill="none"/>
<path d="M59.3,670.6 H62.9" stroke="#000" stroke-width="1.6"/>
<path d="M59.3,578.2 H62.9" stroke="#000" stroke-width="1.6"/>
<path d="M59.3,485.8 H62.9" stroke="#000" stroke-width="1.6"/>
<path d="M61.9,670.6 H311.2" stroke="#000" stroke-width="1.8"/>
<path d="M62.90,670.6 v4.2" stroke="#000" stroke-width="1.6"/>
<path d="M75.35,670.6 v3.0" stroke="#000" stroke-width="1.35"/>
<path d="M82.63,670.6 v3.0" stroke="#000" stroke-width="1.35"/>
<path d="M87.80,670.6 v3.0" stroke="#000" stroke-width="1.35"/>
<path d="M91.80,670.6 v3.0" stroke="#000" stroke-width="1.35"/>
<path d="M95.08,670.6 v3.0" stroke="#000" stroke-width="1.35"/>
<path d="M97.84,670.6 v3.0" stroke="#000" stroke-width="1.35"/>
<path d="M100.24,670.6 v3.0" stroke="#000" stroke-width="1.35"/>
<path d="M102.36,670.6 v3.0" stroke="#000" stroke-width="1.35"/>
<path d="M104.25,670.6 v4.2" stroke="#000" stroke-width="1.6"/>
<path d="M116.70,670.6 v3.0" stroke="#000" stroke-width="1.35"/>
<path d="M123.98,670.6 v3.0" stroke="#000" stroke-width="1.35"/>
<path d="M129.15,670.6 v3.0" stroke="#000" stroke-width="1.35"/>
<path d="M133.15,670.6 v3.0" stroke="#000" stroke-width="1.35"/>
<path d="M136.43,670.6 v3.0" stroke="#000" stroke-width="1.35"/>
<path d="M139.19,670.6 v3.0" stroke="#000" stroke-width="1.35"/>
<path d="M141.59,670.6 v3.0" stroke="#000" stroke-width="1.35"/>
<path d="M143.71,670.6 v3.0" stroke="#000" stroke-width="1.35"/>
<path d="M145.60,670.6 v4.2" stroke="#000" stroke-width="1.6"/>
<path d="M158.05,670.6 v3.0" stroke="#000" stroke-width="1.35"/>
<path d="M165.33,670.6 v3.0" stroke="#000" stroke-width="1.35"/>
<path d="M170.50,670.6 v3.0" stroke="#000" stroke-width="1.35"/>
<path d="M174.50,670.6 v3.0" stroke="#000" stroke-width="1.35"/>
<path d="M177.78,670.6 v3.0" stroke="#000" stroke-width="1.35"/>
<path d="M180.54,670.6 v3.0" stroke="#000" stroke-width="1.35"/>
<path d="M182.94,670.6 v3.0" stroke="#000" stroke-width="1.35"/>
<path d="M185.06,670.6 v3.0" stroke="#000" stroke-width="1.35"/>
<path d="M186.95,670.6 v4.2" stroke="#000" stroke-width="1.6"/>
<path d="M199.40,670.6 v3.0" stroke="#000" stroke-width="1.35"/>
<path d="M206.68,670.6 v3.0" stroke="#000" stroke-width="1.35"/>
<path d="M211.85,670.6 v3.0" stroke="#000" stroke-width="1.35"/>
<path d="M215.85,670.6 v3.0" stroke="#000" stroke-width="1.35"/>
<path d="M219.13,670.6 v3.0" stroke="#000" stroke-width="1.35"/>
<path d="M221.89,670.6 v3.0" stroke="#000" stroke-width="1.35"/>
<path d="M224.29,670.6 v3.0" stroke="#000" stroke-width="1.35"/>
<path d="M226.41,670.6 v3.0" stroke="#000" stroke-width="1.35"/>
<path d="M228.30,670.6 v4.2" stroke="#000" stroke-width="1.6"/>
<path d="M240.75,670.6 v3.0" stroke="#000" stroke-width="1.35"/>
<path d="M248.03,670.6 v3.0" stroke="#000" stroke-width="1.35"/>
<path d="M253.20,670.6 v3.0" stroke="#000" stroke-width="1.35"/>
<path d="M257.20,670.6 v3.0" stroke="#000" stroke-width="1.35"/>
<path d="M260.48,670.6 v3.0" stroke="#000" stroke-width="1.35"/>
<path d="M263.24,670.6 v3.0" stroke="#000" stroke-width="1.35"/>
<path d="M265.64,670.6 v3.0" stroke="#000" stroke-width="1.35"/>
<path d="M267.76,670.6 v3.0" stroke="#000" stroke-width="1.35"/>
<path d="M269.65,670.6 v4.2" stroke="#000" stroke-width="1.6"/>
<path d="M311.00,670.6 v4.2" stroke="#000" stroke-width="1.6"/>
<text transform="translate(55.5,678.50) scale(0.94,1)" text-anchor="end" font-size="19.8" fill="#262626">0</text>
<text transform="translate(55.5,586.10) scale(0.94,1)" text-anchor="end" font-size="19.8" fill="#262626">50</text>
<text transform="translate(55.5,493.70) scale(0.94,1)" text-anchor="end" font-size="19.8" fill="#262626">100</text>
<g transform="translate(55.5,493.70) scale(0.94,1)" fill="#fff"><rect x="-32.13" y="-2.08" width="4.02" height="2.78"/><rect x="-26.26" y="-2.08" width="3.87" height="2.78"/></g>
<text transform="translate(72.40,686.70) rotate(-45) scale(0.94,1)" text-anchor="end" font-size="19.8" fill="#262626">0.1</text>
<g transform="translate(72.40,686.70) rotate(-45) scale(0.94,1)" fill="#fff"><rect x="-10.10" y="-2.08" width="4.02" height="2.78"/><rect x="-4.23" y="-2.08" width="3.87" height="2.78"/></g>
<text transform="translate(111.75,686.30) rotate(-45) scale(0.94,1)" text-anchor="end" font-size="19.8" fill="#262626">1</text>
<g transform="translate(111.75,686.30) rotate(-45) scale(0.94,1)" fill="#fff"><rect x="-10.10" y="-2.08" width="4.02" height="2.78"/><rect x="-4.23" y="-2.08" width="3.87" height="2.78"/></g>
<text transform="translate(152.50,686.40) rotate(-45) scale(0.94,1)" text-anchor="end" font-size="19.8" fill="#262626">10</text>
<g transform="translate(152.50,686.40) rotate(-45) scale(0.94,1)" fill="#fff"><rect x="-21.12" y="-2.08" width="4.02" height="2.78"/><rect x="-15.24" y="-2.08" width="3.87" height="2.78"/></g>
<text transform="translate(195.95,686.50) rotate(-45) scale(0.94,1)" text-anchor="end" font-size="19.8" fill="#262626">100</text>
<g transform="translate(195.95,686.50) rotate(-45) scale(0.94,1)" fill="#fff"><rect x="-32.13" y="-2.08" width="4.02" height="2.78"/><rect x="-26.26" y="-2.08" width="3.87" height="2.78"/></g>
<text transform="translate(236.70,686.50) rotate(-45) scale(0.94,1)" text-anchor="end" font-size="19.8" fill="#262626">1000</text>
<g transform="translate(236.70,686.50) rotate(-45) scale(0.94,1)" fill="#fff"><rect x="-43.14" y="-2.08" width="4.02" height="2.78"/><rect x="-37.27" y="-2.08" width="3.87" height="2.78"/></g>
<text transform="translate(279.05,686.50) rotate(-45) scale(0.94,1)" text-anchor="end" font-size="19.8" fill="#262626">10000</text>
<g transform="translate(279.05,686.50) rotate(-45) scale(0.94,1)" fill="#fff"><rect x="-54.15" y="-2.08" width="4.02" height="2.78"/><rect x="-48.28" y="-2.08" width="3.87" height="2.78"/></g>
<text transform="translate(322.70,686.50) rotate(-45) scale(0.94,1)" text-anchor="end" font-size="19.8" fill="#262626">100000</text>
<g transform="translate(322.70,686.50) rotate(-45) scale(0.94,1)" fill="#fff"><rect x="-65.16" y="-2.08" width="4.02" height="2.78"/><rect x="-59.29" y="-2.08" width="3.87" height="2.78"/></g>
<path d="M74.30,501.26 L74.80,501.26 L75.30,501.26 L75.80,501.26 L76.30,501.26 L76.80,501.26 L77.30,501.26 L77.80,501.26 L78.30,501.26 L78.80,501.26 L79.30,501.26 L79.80,501.26 L80.30,501.26 L80.80,501.26 L81.30,501.26 L81.80,501.26 L82.30,501.26 L82.80,501.26 L83.30,501.26 L83.80,501.26 L84.30,501.26 L84.80,501.26 L85.30,501.26 L85.80,501.26 L86.30,501.26 L86.80,501.26 L87.30,501.26 L87.80,501.26 L88.30,501.26 L88.80,501.26 L89.30,501.26 L89.80,501.26 L90.30,501.26 L90.80,501.26 L91.30,501.26 L91.80,501.26 L92.30,501.26 L92.80,501.26 L93.30,501.26 L93.80,501.26 L94.30,501.26 L94.80,501.26 L95.30,501.26 L95.80,501.26 L96.30,501.26 L96.80,501.26 L97.30,501.26 L97.80,501.26 L98.30,501.26 L98.80,501.26 L99.30,501.26 L99.80,501.26 L100.30,501.26 L100.80,501.26 L101.30,501.26 L101.80,501.26 L102.30,501.26 L102.80,501.26 L103.30,501.26 L103.80,501.26 L104.30,501.26 L104.80,501.26 L105.30,501.26 L105.80,501.26 L106.30,501.26 L106.80,501.26 L107.30,501.26 L107.80,501.26 L108.30,501.26 L108.80,501.26 L109.30,501.26 L109.80,501.26 L110.30,501.26 L110.80,501.26 L111.30,501.26 L111.80,501.26 L112.30,501.26 L112.80,501.26 L113.30,501.26 L113.80,501.26 L114.30,501.26 L114.80,501.26 L115.30,501.26 L115.80,501.26 L116.30,501.26 L116.80,501.26 L117.30,501.26 L117.80,501.26 L118.30,501.26 L118.80,501.26 L119.30,501.26 L119.80,501.26 L120.30,501.26 L120.80,501.26 L121.30,501.26 L121.80,501.26 L122.30,501.26 L122.80,501.26 L123.30,501.26 L123.80,501.26 L124.30,501.26 L124.80,501.26 L125.30,501.26 L125.80,501.26 L126.30,501.26 L126.80,501.26 L127.30,501.27 L127.80,501.27 L128.30,501.27 L128.80,501.27 L129.30,501.27 L129.80,501.27 L130.30,501.27 L130.80,501.27 L131.30,501.27 L131.80,501.27 L132.30,501.27 L132.80,501.27 L133.30,501.27 L133.80,501.27 L134.30,501.28 L134.80,501.28 L135.30,501.28 L135.80,501.28 L136.30,501.28 L136.80,501.28 L137.30,501.28 L137.80,501.29 L138.30,501.29 L138.80,501.29 L139.30,501.29 L139.80,501.29 L140.30,501.30 L140.80,501.30 L141.30,501.30 L141.80,501.30 L142.30,501.31 L142.80,501.31 L143.30,501.31 L143.80,501.32 L144.30,501.32 L144.80,501.33 L145.30,501.33 L145.80,501.34 L146.30,501.34 L146.80,501.35 L147.30,501.35 L147.80,501.36 L148.30,501.36 L148.80,501.37 L149.30,501.38 L149.80,501.39 L150.30,501.40 L150.80,501.40 L151.30,501.41 L151.80,501.42 L152.30,501.44 L152.80,501.45 L153.30,501.46 L153.80,501.47 L154.30,501.49 L154.80,501.50 L155.30,501.52 L155.80,501.54 L156.30,501.55 L156.80,501.57 L157.30,501.59 L157.80,501.62 L158.30,501.64 L158.80,501.66 L159.30,501.69 L159.80,501.72 L160.30,501.75 L160.80,501.78 L161.30,501.82 L161.80,501.85 L162.30,501.89 L162.80,501.93 L163.30,501.98 L163.80,502.02 L164.30,502.07 L164.80,502.13 L165.30,502.18 L165.80,502.24 L166.30,502.31 L166.80,502.38 L167.30,502.45 L167.80,502.53 L168.30,502.61 L168.80,502.70 L169.30,502.79 L169.80,502.89 L170.30,503.00 L170.80,503.11 L171.30,503.23 L171.80,503.36 L172.30,503.50 L172.80,503.64 L173.30,503.80 L173.80,503.96 L174.30,504.14 L174.80,504.32 L175.30,504.52 L175.80,504.73 L176.30,504.96 L176.80,505.19 L177.30,505.45 L177.80,505.72 L178.30,506.00 L178.80,506.30 L179.30,506.63 L179.80,506.97 L180.30,507.33 L180.80,507.72 L181.30,508.13 L181.80,508.56 L182.30,509.02 L182.80,509.51 L183.30,510.03 L183.80,510.58 L184.30,511.16 L184.80,511.78 L185.30,512.43 L185.80,513.12 L186.30,513.85 L186.80,514.63 L187.30,515.44 L187.80,516.30 L188.30,517.21 L188.80,518.17 L189.30,519.18 L189.80,520.25 L190.30,521.37 L190.80,522.55 L191.30,523.79 L191.80,525.10 L192.30,526.46 L192.80,527.90 L193.30,529.40 L193.80,530.97 L194.30,532.62 L194.80,534.33 L195.30,536.13 L195.80,537.99 L196.30,539.93 L196.80,541.95 L197.30,544.04 L197.80,546.20 L198.30,548.45 L198.80,550.76 L199.30,553.15 L199.80,555.60 L200.30,558.12 L200.80,560.71 L201.30,563.36 L201.80,566.06 L202.30,568.82 L202.80,571.62 L203.30,574.47 L203.80,577.35 L204.30,580.26 L204.80,583.19 L205.30,586.13 L205.80,589.09 L206.30,592.04 L206.80,594.99 L207.30,597.92 L207.80,600.83 L208.30,603.71 L208.80,606.55 L209.30,609.34 L209.80,612.08 L210.30,614.77 L210.80,617.38 L211.30,619.93 L211.80,622.40 L212.30,624.79 L212.80,627.10 L213.30,629.32 L213.80,631.45 L214.30,633.49 L214.80,635.43 L215.30,637.28 L215.80,639.04 L216.30,640.71 L216.80,642.28 L217.30,643.76 L217.80,645.15 L218.30,646.46 L218.80,647.68 L219.30,648.83 L219.80,649.89 L220.30,650.88 L220.80,651.80 L221.30,652.65 L221.80,653.43 L222.30,654.16 L222.80,654.83 L223.30,655.44 L223.80,656.01 L224.30,656.53 L224.80,657.00 L225.30,657.43 L225.80,657.83 L226.30,658.19 L226.80,658.52 L227.30,658.82 L227.80,659.09 L228.30,659.34 L228.80,659.57 L229.30,659.77 L229.80,659.95 L230.30,660.12 L230.80,660.27 L231.30,660.41 L231.80,660.53 L232.30,660.64 L232.80,660.74 L233.30,660.83 L233.80,660.91 L234.30,660.98 L234.80,661.05 L235.30,661.11 L235.80,661.16 L236.30,661.21 L236.80,661.25 L237.30,661.29 L237.80,661.32 L238.30,661.36 L238.80,661.38 L239.30,661.41 L239.80,661.43 L240.30,661.45 L240.80,661.47 L241.30,661.48 L241.80,661.50 L242.30,661.51 L242.80,661.52 L243.30,661.53 L243.80,661.54 L244.30,661.55 L244.80,661.56 L245.30,661.56 L245.80,661.57 L246.30,661.57 L246.80,661.58 L247.30,661.58 L247.80,661.59 L248.30,661.59 L248.80,661.59 L249.30,661.60 L249.80,661.60 L250.30,661.60 L250.80,661.60 L251.30,661.60 L251.80,661.61 L252.30,661.61 L252.80,661.61 L253.30,661.61 L253.80,661.61 L254.30,661.61 L254.80,661.61 L255.30,661.61 L255.80,661.61 L256.30,661.61 L256.80,661.61 L257.30,661.62 L257.80,661.62 L258.30,661.62 L258.80,661.62 L259.30,661.62 L259.80,661.62 L260.30,661.62 L260.80,661.62 L261.30,661.62 L261.80,661.62 L262.30,661.62 L262.80,661.62 L263.30,661.62 L263.80,661.62 L264.30,661.62 L264.80,661.62 L265.30,661.62 L265.80,661.62 L266.30,661.62 L266.80,661.62 L267.30,661.62 L267.80,661.62 L268.30,661.62 L268.80,661.62 L269.30,661.62 L269.80,661.62 L270.30,661.62 L270.80,661.62 L271.30,661.62 L271.80,661.62 L272.30,661.62 L272.80,661.62 L273.30,661.62 L273.80,661.62 L274.30,661.62 L274.80,661.62 L275.30,661.62 L275.80,661.62 L276.30,661.62 L276.80,661.62 L277.30,661.62 L277.80,661.62 L278.30,661.62 L278.80,661.62 L279.30,661.62 L279.80,661.62 L280.30,661.62 L280.80,661.62 L281.30,661.62 L281.80,661.62 L282.30,661.62 L282.80,661.62 L283.30,661.62 L283.80,661.62 L284.30,661.62 L284.80,661.62 L285.30,661.62 L285.80,661.62 L286.30,661.62 L286.80,661.62 L287.30,661.62 L287.80,661.62 L288.30,661.62 L288.80,661.62 L289.30,661.62 L289.80,661.62 L290.30,661.62 L290.80,661.62 L291.30,661.62 L291.80,661.62 L292.30,661.62 L292.80,661.62 L293.30,661.62 L293.80,661.62 L294.30,661.62 L294.80,661.62 L295.30,661.62 L295.80,661.62 L296.30,661.62 L296.80,661.62 L297.30,661.62 L297.80,661.62 L298.30,661.62" fill="none" stroke="#a6a6a6" stroke-width="1.6" stroke-dasharray="3.3,2.4" stroke-linejoin="round"/>
<path d="M74.30,483.28 L74.80,483.28 L75.30,483.29 L75.80,483.29 L76.30,483.29 L76.80,483.29 L77.30,483.29 L77.80,483.29 L78.30,483.29 L78.80,483.29 L79.30,483.30 L79.80,483.30 L80.30,483.30 L80.80,483.30 L81.30,483.30 L81.80,483.31 L82.30,483.31 L82.80,483.31 L83.30,483.31 L83.80,483.31 L84.30,483.32 L84.80,483.32 L85.30,483.32 L85.80,483.32 L86.30,483.33 L86.80,483.33 L87.30,483.33 L87.80,483.34 L88.30,483.34 L88.80,483.34 L89.30,483.35 L89.80,483.35 L90.30,483.35 L90.80,483.36 L91.30,483.36 L91.80,483.37 L92.30,483.37 L92.80,483.38 L93.30,483.38 L93.80,483.39 L94.30,483.39 L94.80,483.40 L95.30,483.40 L95.80,483.41 L96.30,483.42 L96.80,483.42 L97.30,483.43 L97.80,483.44 L98.30,483.45 L98.80,483.45 L99.30,483.46 L99.80,483.47 L100.30,483.48 L100.80,483.49 L101.30,483.50 L101.80,483.51 L102.30,483.52 L102.80,483.53 L103.30,483.55 L103.80,483.56 L104.30,483.57 L104.80,483.58 L105.30,483.60 L105.80,483.61 L106.30,483.63 L106.80,483.64 L107.30,483.66 L107.80,483.68 L108.30,483.70 L108.80,483.72 L109.30,483.74 L109.80,483.76 L110.30,483.78 L110.80,483.80 L111.30,483.82 L111.80,483.85 L112.30,483.87 L112.80,483.90 L113.30,483.93 L113.80,483.96 L114.30,483.99 L114.80,484.02 L115.30,484.05 L115.80,484.09 L116.30,484.12 L116.80,484.16 L117.30,484.20 L117.80,484.24 L118.30,484.28 L118.80,484.32 L119.30,484.37 L119.80,484.42 L120.30,484.47 L120.80,484.52 L121.30,484.57 L121.80,484.63 L122.30,484.69 L122.80,484.75 L123.30,484.82 L123.80,484.88 L124.30,484.95 L124.80,485.02 L125.30,485.10 L125.80,485.18 L126.30,485.26 L126.80,485.35 L127.30,485.44 L127.80,485.53 L128.30,485.63 L128.80,485.73 L129.30,485.83 L129.80,485.94 L130.30,486.06 L130.80,486.17 L131.30,486.30 L131.80,486.43 L132.30,486.56 L132.80,486.70 L133.30,486.85 L133.80,487.00 L134.30,487.15 L134.80,487.32 L135.30,487.49 L135.80,487.67 L136.30,487.85 L136.80,488.04 L137.30,488.24 L137.80,488.45 L138.30,488.67 L138.80,488.89 L139.30,489.13 L139.80,489.37 L140.30,489.62 L140.80,489.88 L141.30,490.16 L141.80,490.44 L142.30,490.73 L142.80,491.04 L143.30,491.36 L143.80,491.69 L144.30,492.03 L144.80,492.38 L145.30,492.75 L145.80,493.13 L146.30,493.53 L146.80,493.93 L147.30,494.36 L147.80,494.80 L148.30,495.25 L148.80,495.73 L149.30,496.21 L149.80,496.72 L150.30,497.24 L150.80,497.78 L151.30,498.34 L151.80,498.92 L152.30,499.51 L152.80,500.13 L153.30,500.76 L153.80,501.42 L154.30,502.09 L154.80,502.79 L155.30,503.51 L155.80,504.25 L156.30,505.01 L156.80,505.79 L157.30,506.60 L157.80,507.43 L158.30,508.28 L158.80,509.16 L159.30,510.06 L159.80,510.98 L160.30,511.92 L160.80,512.89 L161.30,513.89 L161.80,514.90 L162.30,515.94 L162.80,517.01 L163.30,518.09 L163.80,519.20 L164.30,520.34 L164.80,521.49 L165.30,522.67 L165.80,523.87 L166.30,525.09 L166.80,526.34 L167.30,527.60 L167.80,528.88 L168.30,530.19 L168.80,531.51 L169.30,532.85 L169.80,534.21 L170.30,535.59 L170.80,536.98 L171.30,538.39 L171.80,539.82 L172.30,541.25 L172.80,542.70 L173.30,544.17 L173.80,545.64 L174.30,547.12 L174.80,548.61 L175.30,550.12 L175.80,551.62 L176.30,553.14 L176.80,554.66 L177.30,556.18 L177.80,557.71 L178.30,559.24 L178.80,560.77 L179.30,562.30 L179.80,563.82 L180.30,565.35 L180.80,566.88 L181.30,568.40 L181.80,569.91 L182.30,571.42 L182.80,572.93 L183.30,574.42 L183.80,575.91 L184.30,577.39 L184.80,578.86 L185.30,580.32 L185.80,581.77 L186.30,583.21 L186.80,584.64 L187.30,586.05 L187.80,587.45 L188.30,588.83 L188.80,590.20 L189.30,591.56 L189.80,592.90 L190.30,594.22 L190.80,595.53 L191.30,596.82 L191.80,598.10 L192.30,599.36 L192.80,600.60 L193.30,601.82 L193.80,603.03 L194.30,604.22 L194.80,605.39 L195.30,606.54 L195.80,607.68 L196.30,608.80 L196.80,609.90 L197.30,610.98 L197.80,612.04 L198.30,613.09 L198.80,614.11 L199.30,615.12 L199.80,616.12 L200.30,617.09 L200.80,618.05 L201.30,618.99 L201.80,619.91 L202.30,620.81 L202.80,621.70 L203.30,622.57 L203.80,623.42 L204.30,624.26 L204.80,625.08 L205.30,625.89 L205.80,626.68 L206.30,627.45 L206.80,628.21 L207.30,628.95 L207.80,629.68 L208.30,630.39 L208.80,631.09 L209.30,631.77 L209.80,632.44 L210.30,633.09 L210.80,633.73 L211.30,634.36 L211.80,634.98 L212.30,635.58 L212.80,636.17 L213.30,636.74 L213.80,637.31 L214.30,637.86 L214.80,638.40 L215.30,638.92 L215.80,639.44 L216.30,639.95 L216.80,640.44 L217.30,640.92 L217.80,641.39 L218.30,641.86 L218.80,642.31 L219.30,642.75 L219.80,643.18 L220.30,643.60 L220.80,644.01 L221.30,644.42 L221.80,644.81 L222.30,645.20 L222.80,645.57 L223.30,645.94 L223.80,646.30 L224.30,646.65 L224.80,647.00 L225.30,647.33 L225.80,647.66 L226.30,647.98 L226.80,648.30 L227.30,648.60 L227.80,648.90 L228.30,649.20 L228.80,649.48 L229.30,649.76 L229.80,650.03 L230.30,650.30 L230.80,650.56 L231.30,650.82 L231.80,651.07 L232.30,651.31 L232.80,651.55 L233.30,651.78 L233.80,652.00 L234.30,652.23 L234.80,652.44 L235.30,652.65 L235.80,652.86 L236.30,653.06 L236.80,653.26 L237.30,653.45 L237.80,653.64 L238.30,653.82 L238.80,654.00 L239.30,654.18 L239.80,654.35 L240.30,654.51 L240.80,654.68 L241.30,654.84 L241.80,654.99 L242.30,655.15 L242.80,655.29 L243.30,655.44 L243.80,655.58 L244.30,655.72 L244.80,655.86 L245.30,655.99 L245.80,656.12 L246.30,656.24 L246.80,656.37 L247.30,656.49 L247.80,656.60 L248.30,656.72 L248.80,656.83 L249.30,656.94 L249.80,657.05 L250.30,657.15 L250.80,657.25 L251.30,657.35 L251.80,657.45 L252.30,657.54 L252.80,657.64 L253.30,657.73 L253.80,657.82 L254.30,657.90 L254.80,657.99 L255.30,658.07 L255.80,658.15 L256.30,658.23 L256.80,658.31 L257.30,658.38 L257.80,658.45 L258.30,658.53 L258.80,658.60 L259.30,658.66 L259.80,658.73 L260.30,658.80 L260.80,658.86 L261.30,658.92 L261.80,658.98 L262.30,659.04 L262.80,659.10 L263.30,659.15 L263.80,659.21 L264.30,659.26 L264.80,659.32 L265.30,659.37 L265.80,659.42 L266.30,659.47 L266.80,659.51 L267.30,659.56 L267.80,659.61 L268.30,659.65 L268.80,659.70 L269.30,659.74 L269.80,659.78 L270.30,659.82 L270.80,659.86 L271.30,659.90 L271.80,659.94 L272.30,659.97 L272.80,660.01 L273.30,660.04 L273.80,660.08 L274.30,660.11 L274.80,660.14 L275.30,660.18 L275.80,660.21 L276.30,660.24 L276.80,660.27 L277.30,660.30 L277.80,660.33 L278.30,660.35 L278.80,660.38 L279.30,660.41 L279.80,660.43 L280.30,660.46 L280.80,660.48 L281.30,660.51 L281.80,660.53 L282.30,660.55 L282.80,660.58 L283.30,660.60 L283.80,660.62 L284.30,660.64 L284.80,660.66 L285.30,660.68 L285.80,660.70 L286.30,660.72 L286.80,660.74 L287.30,660.76 L287.80,660.77 L288.30,660.79 L288.80,660.81 L289.30,660.82 L289.80,660.84 L290.30,660.86 L290.80,660.87 L291.30,660.89 L291.80,660.90 L292.30,660.92 L292.80,660.93 L293.30,660.94 L293.80,660.96 L294.30,660.97 L294.80,660.98 L295.30,660.99 L295.80,661.01 L296.30,661.02 L296.80,661.03 L297.30,661.04 L297.80,661.05 L298.30,661.06" fill="none" stroke="#0a0ac4" stroke-width="2.0" stroke-linejoin="round"/>
<path d="M74.30,507.99 L74.80,508.05 L75.30,508.10 L75.80,508.16 L76.30,508.22 L76.80,508.28 L77.30,508.34 L77.80,508.40 L78.30,508.46 L78.80,508.52 L79.30,508.58 L79.80,508.64 L80.30,508.70 L80.80,508.76 L81.30,508.82 L81.80,508.88 L82.30,508.95 L82.80,509.01 L83.30,509.07 L83.80,509.13 L84.30,509.20 L84.80,509.26 L85.30,509.33 L85.80,509.39 L86.30,509.46 L86.80,509.52 L87.30,509.59 L87.80,509.65 L88.30,509.72 L88.80,509.79 L89.30,509.86 L89.80,509.92 L90.30,509.99 L90.80,510.06 L91.30,510.13 L91.80,510.20 L92.30,510.27 L92.80,510.34 L93.30,510.41 L93.80,510.48 L94.30,510.55 L94.80,510.62 L95.30,510.69 L95.80,510.77 L96.30,510.84 L96.80,510.91 L97.30,510.99 L97.80,511.06 L98.30,511.14 L98.80,511.21 L99.30,511.29 L99.80,511.36 L100.30,511.44 L100.80,511.51 L101.30,511.59 L101.80,511.67 L102.30,511.75 L102.80,511.83 L103.30,511.90 L103.80,511.98 L104.30,512.06 L104.80,512.14 L105.30,512.22 L105.80,512.30 L106.30,512.39 L106.80,512.47 L107.30,512.55 L107.80,512.63 L108.30,512.72 L108.80,512.80 L109.30,512.89 L109.80,512.97 L110.30,513.06 L110.80,513.14 L111.30,513.23 L111.80,513.31 L112.30,513.40 L112.80,513.49 L113.30,513.58 L113.80,513.66 L114.30,513.75 L114.80,513.84 L115.30,513.93 L115.80,514.02 L116.30,514.12 L116.80,514.21 L117.30,514.30 L117.80,514.39 L118.30,514.48 L118.80,514.58 L119.30,514.67 L119.80,514.77 L120.30,514.86 L120.80,514.96 L121.30,515.05 L121.80,515.15 L122.30,515.25 L122.80,515.35 L123.30,515.44 L123.80,515.54 L124.30,515.64 L124.80,515.74 L125.30,515.84 L125.80,515.94 L126.30,516.05 L126.80,516.15 L127.30,516.25 L127.80,516.36 L128.30,516.46 L128.80,516.56 L129.30,516.67 L129.80,516.77 L130.30,516.88 L130.80,516.99 L131.30,517.10 L131.80,517.20 L132.30,517.31 L132.80,517.42 L133.30,517.53 L133.80,517.64 L134.30,517.75 L134.80,517.86 L135.30,517.98 L135.80,518.09 L136.30,518.20 L136.80,518.32 L137.30,518.43 L137.80,518.55 L138.30,518.66 L138.80,518.78 L139.30,518.90 L139.80,519.02 L140.30,519.13 L140.80,519.25 L141.30,519.37 L141.80,519.49 L142.30,519.61 L142.80,519.74 L143.30,519.86 L143.80,519.98 L144.30,520.11 L144.80,520.23 L145.30,520.36 L145.80,520.48 L146.30,520.61 L146.80,520.74 L147.30,520.86 L147.80,520.99 L148.30,521.12 L148.80,521.25 L149.30,521.38 L149.80,521.51 L150.30,521.65 L150.80,521.78 L151.30,521.91 L151.80,522.05 L152.30,522.18 L152.80,522.32 L153.30,522.46 L153.80,522.59 L154.30,522.73 L154.80,522.87 L155.30,523.01 L155.80,523.15 L156.30,523.29 L156.80,523.43 L157.30,523.58 L157.80,523.72 L158.30,523.86 L158.80,524.01 L159.30,524.15 L159.80,524.30 L160.30,524.45 L160.80,524.60 L161.30,524.75 L161.80,524.90 L162.30,525.05 L162.80,525.20 L163.30,525.35 L163.80,525.50 L164.30,525.66 L164.80,525.81 L165.30,525.97 L165.80,526.12 L166.30,526.28 L166.80,526.44 L167.30,526.60 L167.80,526.76 L168.30,526.92 L168.80,527.08 L169.30,527.24 L169.80,527.40 L170.30,527.57 L170.80,527.73 L171.30,527.90 L171.80,528.07 L172.30,528.23 L172.80,528.40 L173.30,528.57 L173.80,528.74 L174.30,528.91 L174.80,529.08 L175.30,529.26 L175.80,529.43 L176.30,529.61 L176.80,529.78 L177.30,529.96 L177.80,530.14 L178.30,530.31 L178.80,530.49 L179.30,530.67 L179.80,530.86 L180.30,531.04 L180.80,531.22 L181.30,531.41 L181.80,531.59 L182.30,531.78 L182.80,531.96 L183.30,532.15 L183.80,532.34 L184.30,532.53 L184.80,532.72 L185.30,532.92 L185.80,533.11 L186.30,533.30 L186.80,533.50 L187.30,533.70 L187.80,533.89 L188.30,534.09 L188.80,534.29 L189.30,534.49 L189.80,534.69 L190.30,534.90 L190.80,535.10 L191.30,535.30 L191.80,535.51 L192.30,535.72 L192.80,535.92 L193.30,536.13 L193.80,536.34 L194.30,536.55 L194.80,536.77 L195.30,536.98 L195.80,537.20 L196.30,537.41 L196.80,537.63 L197.30,537.85 L197.80,538.06 L198.30,538.28 L198.80,538.51 L199.30,538.73 L199.80,538.95 L200.30,539.18 L200.80,539.40 L201.30,539.63 L201.80,539.86 L202.30,540.09 L202.80,540.32 L203.30,540.55 L203.80,540.78 L204.30,541.02 L204.80,541.25 L205.30,541.49 L205.80,541.73 L206.30,541.97 L206.80,542.21 L207.30,542.45 L207.80,542.69 L208.30,542.93 L208.80,543.18 L209.30,543.43 L209.80,543.67 L210.30,543.92 L210.80,544.17 L211.30,544.42 L211.80,544.68 L212.30,544.93 L212.80,545.19 L213.30,545.44 L213.80,545.70 L214.30,545.96 L214.80,546.22 L215.30,546.48 L215.80,546.75 L216.30,547.01 L216.80,547.28 L217.30,547.54 L217.80,547.81 L218.30,548.08 L218.80,548.35 L219.30,548.63 L219.80,548.90 L220.30,549.18 L220.80,549.45 L221.30,549.73 L221.80,550.01 L222.30,550.29 L222.80,550.57 L223.30,550.86 L223.80,551.14 L224.30,551.43 L224.80,551.72 L225.30,552.01 L225.80,552.30 L226.30,552.59 L226.80,552.88 L227.30,553.18 L227.80,553.48 L228.30,553.77 L228.80,554.07 L229.30,554.38 L229.80,554.68 L230.30,554.98 L230.80,555.29 L231.30,555.60 L231.80,555.90 L232.30,556.21 L232.80,556.53 L233.30,556.84 L233.80,557.15 L234.30,557.47 L234.80,557.79 L235.30,558.11 L235.80,558.43 L236.30,558.75 L236.80,559.07 L237.30,559.40 L237.80,559.73 L238.30,560.06 L238.80,560.39 L239.30,560.72 L239.80,561.05 L240.30,561.39 L240.80,561.72 L241.30,562.06 L241.80,562.40 L242.30,562.74 L242.80,563.09 L243.30,563.43 L243.80,563.78 L244.30,564.13 L244.80,564.48 L245.30,564.83 L245.80,565.18 L246.30,565.54 L246.80,565.89 L247.30,566.25 L247.80,566.61 L248.30,566.97 L248.80,567.34 L249.30,567.70 L249.80,568.07 L250.30,568.44 L250.80,568.81 L251.30,569.18 L251.80,569.55 L252.30,569.93 L252.80,570.31 L253.30,570.69 L253.80,571.07 L254.30,571.45 L254.80,571.84 L255.30,572.22 L255.80,572.61 L256.30,573.00 L256.80,573.39 L257.30,573.78 L257.80,574.18 L258.30,574.58 L258.80,574.98 L259.30,575.38 L259.80,575.78 L260.30,576.18 L260.80,576.59 L261.30,577.00 L261.80,577.41 L262.30,577.82 L262.80,578.24 L263.30,578.65 L263.80,579.07 L264.30,579.49 L264.80,579.91 L265.30,580.33 L265.80,580.76 L266.30,581.19 L266.80,581.62 L267.30,582.05 L267.80,582.48 L268.30,582.91 L268.80,583.35 L269.30,583.79 L269.80,584.23 L270.30,584.67 L270.80,585.12 L271.30,585.57 L271.80,586.01 L272.30,586.47 L272.80,586.92 L273.30,587.37 L273.80,587.83 L274.30,588.29 L274.80,588.75 L275.30,589.21 L275.80,589.68 L276.30,590.14 L276.80,590.61 L277.30,591.08 L277.80,591.56 L278.30,592.03 L278.80,592.51 L279.30,592.99 L279.80,593.47 L280.30,593.95 L280.80,594.44 L281.30,594.93 L281.80,595.42 L282.30,595.91 L282.80,596.40 L283.30,596.90 L283.80,597.40 L284.30,597.90 L284.80,598.40 L285.30,598.90 L285.80,599.41 L286.30,599.92 L286.80,600.43 L287.30,600.94 L287.80,601.46 L288.30,601.98 L288.80,602.49 L289.30,603.02 L289.80,603.54 L290.30,604.07 L290.80,604.59 L291.30,605.13 L291.80,605.66 L292.30,606.19 L292.80,606.73 L293.30,607.27 L293.80,607.81 L294.30,608.35 L294.80,608.90 L295.30,609.45 L295.80,610.00 L296.30,610.55 L296.80,611.11 L297.30,611.66 L297.80,612.22 L298.30,612.79" fill="none" stroke="#ff8000" stroke-width="2.0" stroke-linejoin="round"/>
<path d="M99.20,501.70 V525.60 M97.00,501.70 H101.40 M97.00,525.60 H101.40" stroke="#ff8000" stroke-width="1.6" fill="none"/>
<path d="M124.10,496.60 V538.50 M121.90,496.60 H126.30 M121.90,538.50 H126.30" stroke="#ff8000" stroke-width="1.6" fill="none"/>
<path d="M173.90,510.50 V535.40 M171.70,510.50 H176.10 M171.70,535.40 H176.10" stroke="#ff8000" stroke-width="1.6" fill="none"/>
<path d="M198.80,520.70 V548.70 M196.60,520.70 H201.00 M196.60,548.70 H201.00" stroke="#ff8000" stroke-width="1.6" fill="none"/>
<path d="M223.70,564.70 V597.40 M221.50,564.70 H225.90 M221.50,597.40 H225.90" stroke="#ff8000" stroke-width="1.6" fill="none"/>
<path d="M248.60,527.80 V548.10 M246.40,527.80 H250.80 M246.40,548.10 H250.80" stroke="#ff8000" stroke-width="1.6" fill="none"/>
<path d="M273.50,550.70 V583.80 M271.30,550.70 H275.70 M271.30,583.80 H275.70" stroke="#ff8000" stroke-width="1.6" fill="none"/>
<path d="M298.40,628.20 V635.20 M296.20,628.20 H300.60 M296.20,635.20 H300.60" stroke="#ff8000" stroke-width="1.6" fill="none"/>
<path d="M96.70,509.99 L101.70,509.99 L99.20,514.24 Z" fill="#ff8000"/>
<path d="M121.60,514.09 L126.60,514.09 L124.10,518.34 Z" fill="#ff8000"/>
<path d="M146.50,546.79 L151.50,546.79 L149.00,551.04 Z" fill="#ff8000"/>
<path d="M171.40,520.19 L176.40,520.19 L173.90,524.44 Z" fill="#ff8000"/>
<path d="M196.30,531.09 L201.30,531.09 L198.80,535.34 Z" fill="#ff8000"/>
<path d="M221.20,579.09 L226.20,579.09 L223.70,583.34 Z" fill="#ff8000"/>
<path d="M246.10,534.49 L251.10,534.49 L248.60,538.74 Z" fill="#ff8000"/>
<path d="M271.00,563.89 L276.00,563.89 L273.50,568.14 Z" fill="#ff8000"/>
<path d="M295.90,629.29 L300.90,629.29 L298.40,633.54 Z" fill="#ff8000"/>
<path d="M99.20,485.30 V504.70 M97.00,485.30 H101.40 M97.00,504.70 H101.40" stroke="#a6a6a6" stroke-width="1.6" fill="none"/>
<path d="M124.10,496.60 V511.90 M121.90,496.60 H126.30 M121.90,511.90 H126.30" stroke="#a6a6a6" stroke-width="1.6" fill="none"/>
<path d="M149.00,489.40 V516.00 M146.80,489.40 H151.20 M146.80,516.00 H151.20" stroke="#a6a6a6" stroke-width="1.6" fill="none"/>
<path d="M173.90,488.00 V537.00 M171.70,488.00 H176.10 M171.70,537.00 H176.10" stroke="#a6a6a6" stroke-width="1.6" fill="none"/>
<path d="M198.80,530.70 V578.70 M196.60,530.70 H201.00 M196.60,578.70 H201.00" stroke="#a6a6a6" stroke-width="1.6" fill="none"/>
<path d="M223.70,656.00 V662.50 M221.50,656.00 H225.90 M221.50,662.50 H225.90" stroke="#a6a6a6" stroke-width="1.6" fill="none"/>
<path d="M248.60,658.80 V663.00 M246.40,658.80 H250.80 M246.40,663.00 H250.80" stroke="#a6a6a6" stroke-width="1.6" fill="none"/>
<path d="M273.50,658.80 V663.00 M271.30,658.80 H275.70 M271.30,663.00 H275.70" stroke="#a6a6a6" stroke-width="1.6" fill="none"/>
<path d="M298.40,658.80 V663.00 M296.20,658.80 H300.60 M296.20,663.00 H300.60" stroke="#a6a6a6" stroke-width="1.6" fill="none"/>
<circle cx="74.30" cy="485.90" r="2.5" fill="#a6a6a6"/>
<circle cx="99.20" cy="495.50" r="2.5" fill="#a6a6a6"/>
<circle cx="124.10" cy="505.20" r="2.5" fill="#a6a6a6"/>
<circle cx="149.00" cy="501.70" r="2.5" fill="#a6a6a6"/>
<circle cx="173.90" cy="517.00" r="2.5" fill="#a6a6a6"/>
<circle cx="198.80" cy="554.20" r="2.5" fill="#a6a6a6"/>
<circle cx="223.70" cy="660.40" r="2.5" fill="#a6a6a6"/>
<circle cx="248.60" cy="660.90" r="2.5" fill="#a6a6a6"/>
<circle cx="273.50" cy="660.90" r="2.5" fill="#a6a6a6"/>
<circle cx="298.40" cy="660.90" r="2.5" fill="#a6a6a6"/>
<path d="M99.20,474.50 V486.30 M97.00,474.50 H101.40 M97.00,486.30 H101.40" stroke="#0a0ac4" stroke-width="1.6" fill="none"/>
<path d="M124.10,472.50 V490.40 M121.90,472.50 H126.30 M121.90,490.40 H126.30" stroke="#0a0ac4" stroke-width="1.6" fill="none"/>
<path d="M149.00,496.00 V499.60 M146.80,496.00 H151.20 M146.80,499.60 H151.20" stroke="#0a0ac4" stroke-width="1.6" fill="none"/>
<path d="M173.90,540.10 V555.80 M171.70,540.10 H176.10 M171.70,555.80 H176.10" stroke="#0a0ac4" stroke-width="1.6" fill="none"/>
<path d="M198.80,607.90 V623.50 M196.60,607.90 H201.00 M196.60,623.50 H201.00" stroke="#0a0ac4" stroke-width="1.6" fill="none"/>
<path d="M223.70,643.00 V651.60 M221.50,643.00 H225.90 M221.50,651.60 H225.90" stroke="#0a0ac4" stroke-width="1.6" fill="none"/>
<circle cx="99.20" cy="481.20" r="2.5" fill="#0a0ac4"/>
<circle cx="124.10" cy="484.70" r="2.5" fill="#0a0ac4"/>
<circle cx="149.00" cy="497.60" r="2.5" fill="#0a0ac4"/>
<circle cx="173.90" cy="549.70" r="2.5" fill="#0a0ac4"/>
<circle cx="198.80" cy="614.90" r="2.5" fill="#0a0ac4"/>
<circle cx="223.70" cy="647.60" r="2.5" fill="#0a0ac4"/>
<circle cx="273.50" cy="656.90" r="2.5" fill="#0a0ac4"/>
<circle cx="298.40" cy="660.40" r="2.5" fill="#0a0ac4"/>
<path d="M403.7,468.8 V672.8" stroke="#000" stroke-width="1.8" fill="none"/>
<path d="M400.09999999999997,671.9 H403.7" stroke="#000" stroke-width="1.6"/>
<path d="M400.09999999999997,579.8 H403.7" stroke="#000" stroke-width="1.6"/>
<path d="M400.09999999999997,487.7 H403.7" stroke="#000" stroke-width="1.6"/>
<path d="M402.7,671.9 H652" stroke="#000" stroke-width="1.8"/>
<path d="M403.90,671.9 v4.2" stroke="#000" stroke-width="1.6"/>
<path d="M416.33,671.9 v3.0" stroke="#000" stroke-width="1.35"/>
<path d="M423.60,671.9 v3.0" stroke="#000" stroke-width="1.35"/>
<path d="M428.75,671.9 v3.0" stroke="#000" stroke-width="1.35"/>
<path d="M432.75,671.9 v3.0" stroke="#000" stroke-width="1.35"/>
<path d="M436.02,671.9 v3.0" stroke="#000" stroke-width="1.35"/>
<path d="M438.79,671.9 v3.0" stroke="#000" stroke-width="1.35"/>
<path d="M441.18,671.9 v3.0" stroke="#000" stroke-width="1.35"/>
<path d="M443.29,671.9 v3.0" stroke="#000" stroke-width="1.35"/>
<path d="M445.18,671.9 v4.2" stroke="#000" stroke-width="1.6"/>
<path d="M457.61,671.9 v3.0" stroke="#000" stroke-width="1.35"/>
<path d="M464.88,671.9 v3.0" stroke="#000" stroke-width="1.35"/>
<path d="M470.03,671.9 v3.0" stroke="#000" stroke-width="1.35"/>
<path d="M474.03,671.9 v3.0" stroke="#000" stroke-width="1.35"/>
<path d="M477.30,671.9 v3.0" stroke="#000" stroke-width="1.35"/>
<path d="M480.07,671.9 v3.0" stroke="#000" stroke-width="1.35"/>
<path d="M482.46,671.9 v3.0" stroke="#000" stroke-width="1.35"/>
<path d="M484.57,671.9 v3.0" stroke="#000" stroke-width="1.35"/>
<path d="M486.46,671.9 v4.2" stroke="#000" stroke-width="1.6"/>
<path d="M498.89,671.9 v3.0" stroke="#000" stroke-width="1.35"/>
<path d="M506.16,671.9 v3.0" stroke="#000" stroke-width="1.35"/>
<path d="M511.31,671.9 v3.0" stroke="#000" stroke-width="1.35"/>
<path d="M515.31,671.9 v3.0" stroke="#000" stroke-width="1.35"/>
<path d="M518.58,671.9 v3.0" stroke="#000" stroke-width="1.35"/>
<path d="M521.35,671.9 v3.0" stroke="#000" stroke-width="1.35"/>
<path d="M523.74,671.9 v3.0" stroke="#000" stroke-width="1.35"/>
<path d="M525.85,671.9 v3.0" stroke="#000" stroke-width="1.35"/>
<path d="M527.74,671.9 v4.2" stroke="#000" stroke-width="1.6"/>
<path d="M540.17,671.9 v3.0" stroke="#000" stroke-width="1.35"/>
<path d="M547.44,671.9 v3.0" stroke="#000" stroke-width="1.35"/>
<path d="M552.59,671.9 v3.0" stroke="#000" stroke-width="1.35"/>
<path d="M556.59,671.9 v3.0" stroke="#000" stroke-width="1.35"/>
<path d="M559.86,671.9 v3.0" stroke="#000" stroke-width="1.35"/>
<path d="M562.63,671.9 v3.0" stroke="#000" stroke-width="1.35"/>
<path d="M565.02,671.9 v3.0" stroke="#000" stroke-width="1.35"/>
<path d="M567.13,671.9 v3.0" stroke="#000" stroke-width="1.35"/>
<path d="M569.02,671.9 v4.2" stroke="#000" stroke-width="1.6"/>
<path d="M581.45,671.9 v3.0" stroke="#000" stroke-width="1.35"/>
<path d="M588.72,671.9 v3.0" stroke="#000" stroke-width="1.35"/>
<path d="M593.87,671.9 v3.0" stroke="#000" stroke-width="1.35"/>
<path d="M597.87,671.9 v3.0" stroke="#000" stroke-width="1.35"/>
<path d="M601.14,671.9 v3.0" stroke="#000" stroke-width="1.35"/>
<path d="M603.91,671.9 v3.0" stroke="#000" stroke-width="1.35"/>
<path d="M606.30,671.9 v3.0" stroke="#000" stroke-width="1.35"/>
<path d="M608.41,671.9 v3.0" stroke="#000" stroke-width="1.35"/>
<path d="M610.30,671.9 v4.2" stroke="#000" stroke-width="1.6"/>
<path d="M651.58,671.9 v4.2" stroke="#000" stroke-width="1.6"/>
<text transform="translate(394.5,679.80) scale(0.94,1)" text-anchor="end" font-size="19.8" fill="#262626">0</text>
<text transform="translate(394.5,587.70) scale(0.94,1)" text-anchor="end" font-size="19.8" fill="#262626">50</text>
<text transform="translate(394.5,495.60) scale(0.94,1)" text-anchor="end" font-size="19.8" fill="#262626">100</text>
<g transform="translate(394.5,495.60) scale(0.94,1)" fill="#fff"><rect x="-32.13" y="-2.08" width="4.02" height="2.78"/><rect x="-26.26" y="-2.08" width="3.87" height="2.78"/></g>
<text transform="translate(413.40,690.00) rotate(-45) scale(0.94,1)" text-anchor="end" font-size="19.8" fill="#262626">0.1</text>
<g transform="translate(413.40,690.00) rotate(-45) scale(0.94,1)" fill="#fff"><rect x="-10.10" y="-2.08" width="4.02" height="2.78"/><rect x="-4.23" y="-2.08" width="3.87" height="2.78"/></g>
<text transform="translate(452.68,689.60) rotate(-45) scale(0.94,1)" text-anchor="end" font-size="19.8" fill="#262626">1</text>
<g transform="translate(452.68,689.60) rotate(-45) scale(0.94,1)" fill="#fff"><rect x="-10.10" y="-2.08" width="4.02" height="2.78"/><rect x="-4.23" y="-2.08" width="3.87" height="2.78"/></g>
<text transform="translate(493.36,689.70) rotate(-45) scale(0.94,1)" text-anchor="end" font-size="19.8" fill="#262626">10</text>
<g transform="translate(493.36,689.70) rotate(-45) scale(0.94,1)" fill="#fff"><rect x="-21.12" y="-2.08" width="4.02" height="2.78"/><rect x="-15.24" y="-2.08" width="3.87" height="2.78"/></g>
<text transform="translate(536.74,689.80) rotate(-45) scale(0.94,1)" text-anchor="end" font-size="19.8" fill="#262626">100</text>
<g transform="translate(536.74,689.80) rotate(-45) scale(0.94,1)" fill="#fff"><rect x="-32.13" y="-2.08" width="4.02" height="2.78"/><rect x="-26.26" y="-2.08" width="3.87" height="2.78"/></g>
<text transform="translate(577.42,689.80) rotate(-45) scale(0.94,1)" text-anchor="end" font-size="19.8" fill="#262626">1000</text>
<g transform="translate(577.42,689.80) rotate(-45) scale(0.94,1)" fill="#fff"><rect x="-43.14" y="-2.08" width="4.02" height="2.78"/><rect x="-37.27" y="-2.08" width="3.87" height="2.78"/></g>
<text transform="translate(619.70,689.80) rotate(-45) scale(0.94,1)" text-anchor="end" font-size="19.8" fill="#262626">10000</text>
<g transform="translate(619.70,689.80) rotate(-45) scale(0.94,1)" fill="#fff"><rect x="-54.15" y="-2.08" width="4.02" height="2.78"/><rect x="-48.28" y="-2.08" width="3.87" height="2.78"/></g>
<text transform="translate(663.28,689.80) rotate(-45) scale(0.94,1)" text-anchor="end" font-size="19.8" fill="#262626">100000</text>
<g transform="translate(663.28,689.80) rotate(-45) scale(0.94,1)" fill="#fff"><rect x="-65.16" y="-2.08" width="4.02" height="2.78"/><rect x="-59.29" y="-2.08" width="3.87" height="2.78"/></g>
<path d="M415.50,501.23 L416.00,501.23 L416.50,501.24 L417.00,501.24 L417.50,501.24 L418.00,501.24 L418.50,501.25 L419.00,501.25 L419.50,501.25 L420.00,501.26 L420.50,501.26 L421.00,501.26 L421.50,501.27 L422.00,501.27 L422.50,501.27 L423.00,501.28 L423.50,501.28 L424.00,501.28 L424.50,501.29 L425.00,501.29 L425.50,501.30 L426.00,501.30 L426.50,501.30 L427.00,501.31 L427.50,501.31 L428.00,501.32 L428.50,501.32 L429.00,501.33 L429.50,501.33 L430.00,501.34 L430.50,501.34 L431.00,501.35 L431.50,501.35 L432.00,501.36 L432.50,501.36 L433.00,501.37 L433.50,501.38 L434.00,501.38 L434.50,501.39 L435.00,501.40 L435.50,501.40 L436.00,501.41 L436.50,501.42 L437.00,501.42 L437.50,501.43 L438.00,501.44 L438.50,501.45 L439.00,501.45 L439.50,501.46 L440.00,501.47 L440.50,501.48 L441.00,501.49 L441.50,501.50 L442.00,501.51 L442.50,501.51 L443.00,501.52 L443.50,501.53 L444.00,501.54 L444.50,501.55 L445.00,501.57 L445.50,501.58 L446.00,501.59 L446.50,501.60 L447.00,501.61 L447.50,501.62 L448.00,501.63 L448.50,501.65 L449.00,501.66 L449.50,501.67 L450.00,501.69 L450.50,501.70 L451.00,501.71 L451.50,501.73 L452.00,501.74 L452.50,501.76 L453.00,501.77 L453.50,501.79 L454.00,501.81 L454.50,501.82 L455.00,501.84 L455.50,501.86 L456.00,501.88 L456.50,501.89 L457.00,501.91 L457.50,501.93 L458.00,501.95 L458.50,501.97 L459.00,501.99 L459.50,502.02 L460.00,502.04 L460.50,502.06 L461.00,502.08 L461.50,502.11 L462.00,502.13 L462.50,502.16 L463.00,502.18 L463.50,502.21 L464.00,502.23 L464.50,502.26 L465.00,502.29 L465.50,502.32 L466.00,502.35 L466.50,502.38 L467.00,502.41 L467.50,502.44 L468.00,502.47 L468.50,502.51 L469.00,502.54 L469.50,502.57 L470.00,502.61 L470.50,502.65 L471.00,502.68 L471.50,502.72 L472.00,502.76 L472.50,502.80 L473.00,502.84 L473.50,502.88 L474.00,502.93 L474.50,502.97 L475.00,503.02 L475.50,503.06 L476.00,503.11 L476.50,503.16 L477.00,503.21 L477.50,503.26 L478.00,503.31 L478.50,503.37 L479.00,503.42 L479.50,503.48 L480.00,503.54 L480.50,503.60 L481.00,503.66 L481.50,503.72 L482.00,503.78 L482.50,503.85 L483.00,503.91 L483.50,503.98 L484.00,504.05 L484.50,504.12 L485.00,504.20 L485.50,504.27 L486.00,504.35 L486.50,504.43 L487.00,504.51 L487.50,504.59 L488.00,504.68 L488.50,504.76 L489.00,504.85 L489.50,504.94 L490.00,505.03 L490.50,505.13 L491.00,505.23 L491.50,505.33 L492.00,505.43 L492.50,505.53 L493.00,505.64 L493.50,505.75 L494.00,505.86 L494.50,505.98 L495.00,506.10 L495.50,506.22 L496.00,506.34 L496.50,506.47 L497.00,506.60 L497.50,506.73 L498.00,506.86 L498.50,507.00 L499.00,507.15 L499.50,507.29 L500.00,507.44 L500.50,507.59 L501.00,507.75 L501.50,507.91 L502.00,508.07 L502.50,508.24 L503.00,508.41 L503.50,508.58 L504.00,508.76 L504.50,508.95 L505.00,509.13 L505.50,509.33 L506.00,509.52 L506.50,509.72 L507.00,509.93 L507.50,510.14 L508.00,510.35 L508.50,510.57 L509.00,510.80 L509.50,511.03 L510.00,511.26 L510.50,511.50 L511.00,511.75 L511.50,512.00 L512.00,512.26 L512.50,512.52 L513.00,512.79 L513.50,513.07 L514.00,513.35 L514.50,513.63 L515.00,513.93 L515.50,514.23 L516.00,514.53 L516.50,514.85 L517.00,515.17 L517.50,515.50 L518.00,515.83 L518.50,516.17 L519.00,516.52 L519.50,516.88 L520.00,517.24 L520.50,517.62 L521.00,518.00 L521.50,518.38 L522.00,518.78 L522.50,519.19 L523.00,519.60 L523.50,520.02 L524.00,520.45 L524.50,520.89 L525.00,521.34 L525.50,521.80 L526.00,522.27 L526.50,522.74 L527.00,523.23 L527.50,523.73 L528.00,524.23 L528.50,524.75 L529.00,525.28 L529.50,525.81 L530.00,526.36 L530.50,526.92 L531.00,527.49 L531.50,528.07 L532.00,528.66 L532.50,529.26 L533.00,529.88 L533.50,530.50 L534.00,531.14 L534.50,531.79 L535.00,532.45 L535.50,533.12 L536.00,533.80 L536.50,534.50 L537.00,535.21 L537.50,535.93 L538.00,536.66 L538.50,537.41 L539.00,538.17 L539.50,538.94 L540.00,539.72 L540.50,540.52 L541.00,541.33 L541.50,542.15 L542.00,542.99 L542.50,543.84 L543.00,544.70 L543.50,545.57 L544.00,546.46 L544.50,547.36 L545.00,548.28 L545.50,549.21 L546.00,550.15 L546.50,551.10 L547.00,552.07 L547.50,553.05 L548.00,554.04 L548.50,555.05 L549.00,556.06 L549.50,557.09 L550.00,558.14 L550.50,559.19 L551.00,560.26 L551.50,561.34 L552.00,562.44 L552.50,563.54 L553.00,564.66 L553.50,565.78 L554.00,566.92 L554.50,568.07 L555.00,569.23 L555.50,570.40 L556.00,571.58 L556.50,572.77 L557.00,573.97 L557.50,575.18 L558.00,576.40 L558.50,577.62 L559.00,578.86 L559.50,580.10 L560.00,581.35 L560.50,582.61 L561.00,583.87 L561.50,585.14 L562.00,586.41 L562.50,587.69 L563.00,588.98 L563.50,590.26 L564.00,591.56 L564.50,592.85 L565.00,594.15 L565.50,595.45 L566.00,596.75 L566.50,598.06 L567.00,599.36 L567.50,600.66 L568.00,601.97 L568.50,603.27 L569.00,604.57 L569.50,605.86 L570.00,607.16 L570.50,608.45 L571.00,609.74 L571.50,611.02 L572.00,612.30 L572.50,613.57 L573.00,614.83 L573.50,616.09 L574.00,617.34 L574.50,618.58 L575.00,619.81 L575.50,621.04 L576.00,622.25 L576.50,623.45 L577.00,624.65 L577.50,625.83 L578.00,627.00 L578.50,628.15 L579.00,629.30 L579.50,630.43 L580.00,631.55 L580.50,632.65 L581.00,633.74 L581.50,634.81 L582.00,635.87 L582.50,636.91 L583.00,637.94 L583.50,638.95 L584.00,639.95 L584.50,640.92 L585.00,641.88 L585.50,642.83 L586.00,643.75 L586.50,644.66 L587.00,645.55 L587.50,646.43 L588.00,647.28 L588.50,648.12 L589.00,648.94 L589.50,649.74 L590.00,650.52 L590.50,651.29 L591.00,652.03 L591.50,652.76 L592.00,653.47 L592.50,654.16 L593.00,654.84 L593.50,655.50 L594.00,656.14 L594.50,656.76 L595.00,657.36 L595.50,657.95 L596.00,658.52 L596.50,659.07 L597.00,659.61 L597.50,660.13 L598.00,660.64 L598.50,661.13 L599.00,661.60 L599.50,662.06 L600.00,662.50 L600.50,662.93 L601.00,663.34 L601.50,663.74 L602.00,664.13 L602.50,664.50 L603.00,664.86 L603.50,665.21 L604.00,665.54 L604.50,665.86 L605.00,666.17 L605.50,666.47 L606.00,666.76 L606.50,667.03 L607.00,667.30 L607.50,667.55 L608.00,667.80 L608.50,668.03 L609.00,668.26 L609.50,668.47 L610.00,668.68 L610.50,668.88 L611.00,669.07 L611.50,669.25 L612.00,669.42 L612.50,669.59 L613.00,669.75 L613.50,669.90 L614.00,670.04 L614.50,670.18 L615.00,670.32 L615.50,670.44 L616.00,670.56 L616.50,670.68 L617.00,670.79 L617.50,670.89 L618.00,670.99 L618.50,671.09 L619.00,671.18 L619.50,671.27 L620.00,671.35 L620.50,671.43 L621.00,671.50 L621.50,671.57 L622.00,671.64 L622.50,671.70 L623.00,671.77 L623.50,671.82 L624.00,671.88 L624.50,671.90 L625.00,671.90 L625.50,671.90 L626.00,671.90 L626.50,671.90 L627.00,671.90 L627.50,671.90 L628.00,671.90 L628.50,671.90 L629.00,671.90 L629.50,671.90 L630.00,671.90 L630.50,671.90 L631.00,671.90 L631.50,671.90 L632.00,671.90 L632.50,671.90 L633.00,671.90 L633.50,671.90 L634.00,671.90 L634.50,671.90 L635.00,671.90 L635.50,671.90 L636.00,671.90 L636.50,671.90 L637.00,671.90 L637.50,671.90 L638.00,671.90 L638.50,671.90 L639.00,671.90" fill="none" stroke="#000" stroke-width="1.4" stroke-dasharray="4,2.8" stroke-linejoin="round"/>
<path d="M415.50,483.84 L416.00,483.84 L416.50,483.84 L417.00,483.85 L417.50,483.85 L418.00,483.85 L418.50,483.86 L419.00,483.86 L419.50,483.86 L420.00,483.87 L420.50,483.87 L421.00,483.88 L421.50,483.88 L422.00,483.88 L422.50,483.89 L423.00,483.89 L423.50,483.90 L424.00,483.91 L424.50,483.91 L425.00,483.92 L425.50,483.92 L426.00,483.93 L426.50,483.94 L427.00,483.94 L427.50,483.95 L428.00,483.96 L428.50,483.96 L429.00,483.97 L429.50,483.98 L430.00,483.99 L430.50,484.00 L431.00,484.01 L431.50,484.01 L432.00,484.02 L432.50,484.03 L433.00,484.04 L433.50,484.06 L434.00,484.07 L434.50,484.08 L435.00,484.09 L435.50,484.10 L436.00,484.12 L436.50,484.13 L437.00,484.14 L437.50,484.16 L438.00,484.17 L438.50,484.19 L439.00,484.20 L439.50,484.22 L440.00,484.24 L440.50,484.26 L441.00,484.27 L441.50,484.29 L442.00,484.31 L442.50,484.33 L443.00,484.36 L443.50,484.38 L444.00,484.40 L444.50,484.43 L445.00,484.45 L445.50,484.48 L446.00,484.50 L446.50,484.53 L447.00,484.56 L447.50,484.59 L448.00,484.62 L448.50,484.65 L449.00,484.69 L449.50,484.72 L450.00,484.76 L450.50,484.79 L451.00,484.83 L451.50,484.87 L452.00,484.91 L452.50,484.95 L453.00,485.00 L453.50,485.04 L454.00,485.09 L454.50,485.14 L455.00,485.19 L455.50,485.25 L456.00,485.30 L456.50,485.36 L457.00,485.42 L457.50,485.48 L458.00,485.54 L458.50,485.61 L459.00,485.68 L459.50,485.75 L460.00,485.82 L460.50,485.90 L461.00,485.97 L461.50,486.06 L462.00,486.14 L462.50,486.23 L463.00,486.32 L463.50,486.41 L464.00,486.51 L464.50,486.61 L465.00,486.71 L465.50,486.82 L466.00,486.93 L466.50,487.05 L467.00,487.17 L467.50,487.29 L468.00,487.42 L468.50,487.56 L469.00,487.69 L469.50,487.84 L470.00,487.98 L470.50,488.14 L471.00,488.30 L471.50,488.46 L472.00,488.63 L472.50,488.80 L473.00,488.99 L473.50,489.17 L474.00,489.37 L474.50,489.57 L475.00,489.78 L475.50,489.99 L476.00,490.21 L476.50,490.44 L477.00,490.68 L477.50,490.93 L478.00,491.18 L478.50,491.44 L479.00,491.71 L479.50,491.99 L480.00,492.28 L480.50,492.58 L481.00,492.89 L481.50,493.21 L482.00,493.54 L482.50,493.88 L483.00,494.23 L483.50,494.59 L484.00,494.97 L484.50,495.35 L485.00,495.75 L485.50,496.16 L486.00,496.58 L486.50,497.01 L487.00,497.46 L487.50,497.92 L488.00,498.40 L488.50,498.89 L489.00,499.40 L489.50,499.92 L490.00,500.45 L490.50,501.00 L491.00,501.57 L491.50,502.15 L492.00,502.75 L492.50,503.36 L493.00,503.99 L493.50,504.64 L494.00,505.31 L494.50,505.99 L495.00,506.69 L495.50,507.41 L496.00,508.15 L496.50,508.90 L497.00,509.68 L497.50,510.47 L498.00,511.28 L498.50,512.12 L499.00,512.97 L499.50,513.84 L500.00,514.73 L500.50,515.64 L501.00,516.57 L501.50,517.51 L502.00,518.48 L502.50,519.47 L503.00,520.48 L503.50,521.50 L504.00,522.55 L504.50,523.62 L505.00,524.70 L505.50,525.80 L506.00,526.92 L506.50,528.06 L507.00,529.22 L507.50,530.40 L508.00,531.59 L508.50,532.80 L509.00,534.03 L509.50,535.27 L510.00,536.53 L510.50,537.80 L511.00,539.09 L511.50,540.39 L512.00,541.71 L512.50,543.04 L513.00,544.38 L513.50,545.73 L514.00,547.10 L514.50,548.47 L515.00,549.86 L515.50,551.25 L516.00,552.65 L516.50,554.06 L517.00,555.48 L517.50,556.90 L518.00,558.32 L518.50,559.76 L519.00,561.19 L519.50,562.63 L520.00,564.07 L520.50,565.51 L521.00,566.95 L521.50,568.39 L522.00,569.83 L522.50,571.27 L523.00,572.71 L523.50,574.14 L524.00,575.57 L524.50,576.99 L525.00,578.41 L525.50,579.82 L526.00,581.23 L526.50,582.62 L527.00,584.01 L527.50,585.39 L528.00,586.76 L528.50,588.12 L529.00,589.47 L529.50,590.81 L530.00,592.14 L530.50,593.46 L531.00,594.76 L531.50,596.05 L532.00,597.33 L532.50,598.59 L533.00,599.84 L533.50,601.07 L534.00,602.29 L534.50,603.50 L535.00,604.69 L535.50,605.86 L536.00,607.02 L536.50,608.16 L537.00,609.29 L537.50,610.40 L538.00,611.50 L538.50,612.57 L539.00,613.64 L539.50,614.68 L540.00,615.71 L540.50,616.72 L541.00,617.72 L541.50,618.70 L542.00,619.66 L542.50,620.61 L543.00,621.54 L543.50,622.45 L544.00,623.35 L544.50,624.23 L545.00,625.09 L545.50,625.94 L546.00,626.77 L546.50,627.59 L547.00,628.39 L547.50,629.18 L548.00,629.95 L548.50,630.71 L549.00,631.45 L549.50,632.17 L550.00,632.88 L550.50,633.58 L551.00,634.26 L551.50,634.93 L552.00,635.59 L552.50,636.23 L553.00,636.86 L553.50,637.47 L554.00,638.07 L554.50,638.66 L555.00,639.24 L555.50,639.80 L556.00,640.35 L556.50,640.89 L557.00,641.42 L557.50,641.94 L558.00,642.44 L558.50,642.94 L559.00,643.42 L559.50,643.89 L560.00,644.35 L560.50,644.80 L561.00,645.24 L561.50,645.67 L562.00,646.10 L562.50,646.51 L563.00,646.91 L563.50,647.30 L564.00,647.68 L564.50,648.06 L565.00,648.43 L565.50,648.78 L566.00,649.13 L566.50,649.47 L567.00,649.81 L567.50,650.13 L568.00,650.45 L568.50,650.76 L569.00,651.06 L569.50,651.36 L570.00,651.65 L570.50,651.93 L571.00,652.21 L571.50,652.47 L572.00,652.74 L572.50,652.99 L573.00,653.24 L573.50,653.49 L574.00,653.73 L574.50,653.96 L575.00,654.19 L575.50,654.41 L576.00,654.62 L576.50,654.83 L577.00,655.04 L577.50,655.24 L578.00,655.44 L578.50,655.63 L579.00,655.82 L579.50,656.00 L580.00,656.18 L580.50,656.35 L581.00,656.52 L581.50,656.68 L582.00,656.85 L582.50,657.00 L583.00,657.16 L583.50,657.31 L584.00,657.45 L584.50,657.59 L585.00,657.73 L585.50,657.87 L586.00,658.00 L586.50,658.13 L587.00,658.26 L587.50,658.38 L588.00,658.50 L588.50,658.62 L589.00,658.73 L589.50,658.84 L590.00,658.95 L590.50,659.06 L591.00,659.16 L591.50,659.26 L592.00,659.36 L592.50,659.45 L593.00,659.55 L593.50,659.64 L594.00,659.73 L594.50,659.82 L595.00,659.90 L595.50,659.98 L596.00,660.06 L596.50,660.14 L597.00,660.22 L597.50,660.29 L598.00,660.37 L598.50,660.44 L599.00,660.51 L599.50,660.57 L600.00,660.64 L600.50,660.70 L601.00,660.77 L601.50,660.83 L602.00,660.89 L602.50,660.95 L603.00,661.00 L603.50,661.06 L604.00,661.11 L604.50,661.17 L605.00,661.22 L605.50,661.27 L606.00,661.32 L606.50,661.36 L607.00,661.41 L607.50,661.46 L608.00,661.50 L608.50,661.54 L609.00,661.59 L609.50,661.63 L610.00,661.67 L610.50,661.71 L611.00,661.74 L611.50,661.78 L612.00,661.82 L612.50,661.85 L613.00,661.89 L613.50,661.92 L614.00,661.95 L614.50,661.99 L615.00,662.02 L615.50,662.05 L616.00,662.08 L616.50,662.11 L617.00,662.13 L617.50,662.16 L618.00,662.19 L618.50,662.21 L619.00,662.24 L619.50,662.26 L620.00,662.29 L620.50,662.31 L621.00,662.34 L621.50,662.36 L622.00,662.38 L622.50,662.40 L623.00,662.42 L623.50,662.44 L624.00,662.46 L624.50,662.48 L625.00,662.50 L625.50,662.52 L626.00,662.54 L626.50,662.56 L627.00,662.57 L627.50,662.59 L628.00,662.61 L628.50,662.62 L629.00,662.64 L629.50,662.65 L630.00,662.67 L630.50,662.68 L631.00,662.69 L631.50,662.71 L632.00,662.72 L632.50,662.73 L633.00,662.75 L633.50,662.76 L634.00,662.77 L634.50,662.78 L635.00,662.80 L635.50,662.81 L636.00,662.82 L636.50,662.83 L637.00,662.84 L637.50,662.85 L638.00,662.86 L638.50,662.87 L639.00,662.88" fill="none" stroke="#0a0ac4" stroke-width="2.0" stroke-linejoin="round"/>
<path d="M415.50,489.55 L416.00,489.82 L416.50,490.09 L417.00,490.35 L417.50,490.62 L418.00,490.88 L418.50,491.15 L419.00,491.42 L419.50,491.69 L420.00,491.96 L420.50,492.22 L421.00,492.49 L421.50,492.76 L422.00,493.03 L422.50,493.30 L423.00,493.57 L423.50,493.85 L424.00,494.12 L424.50,494.39 L425.00,494.66 L425.50,494.94 L426.00,495.21 L426.50,495.48 L427.00,495.76 L427.50,496.03 L428.00,496.31 L428.50,496.58 L429.00,496.86 L429.50,497.14 L430.00,497.41 L430.50,497.69 L431.00,497.97 L431.50,498.25 L432.00,498.53 L432.50,498.81 L433.00,499.09 L433.50,499.37 L434.00,499.65 L434.50,499.93 L435.00,500.21 L435.50,500.49 L436.00,500.77 L436.50,501.06 L437.00,501.34 L437.50,501.62 L438.00,501.91 L438.50,502.19 L439.00,502.48 L439.50,502.76 L440.00,503.05 L440.50,503.33 L441.00,503.62 L441.50,503.91 L442.00,504.20 L442.50,504.48 L443.00,504.77 L443.50,505.06 L444.00,505.35 L444.50,505.64 L445.00,505.93 L445.50,506.22 L446.00,506.51 L446.50,506.81 L447.00,507.10 L447.50,507.39 L448.00,507.69 L448.50,507.98 L449.00,508.27 L449.50,508.57 L450.00,508.86 L450.50,509.16 L451.00,509.45 L451.50,509.75 L452.00,510.05 L452.50,510.35 L453.00,510.64 L453.50,510.94 L454.00,511.24 L454.50,511.54 L455.00,511.84 L455.50,512.14 L456.00,512.44 L456.50,512.74 L457.00,513.04 L457.50,513.35 L458.00,513.65 L458.50,513.95 L459.00,514.26 L459.50,514.56 L460.00,514.87 L460.50,515.17 L461.00,515.48 L461.50,515.78 L462.00,516.09 L462.50,516.40 L463.00,516.70 L463.50,517.01 L464.00,517.32 L464.50,517.63 L465.00,517.94 L465.50,518.25 L466.00,518.56 L466.50,518.87 L467.00,519.18 L467.50,519.49 L468.00,519.81 L468.50,520.12 L469.00,520.43 L469.50,520.75 L470.00,521.06 L470.50,521.38 L471.00,521.69 L471.50,522.01 L472.00,522.32 L472.50,522.64 L473.00,522.96 L473.50,523.28 L474.00,523.59 L474.50,523.91 L475.00,524.23 L475.50,524.55 L476.00,524.87 L476.50,525.19 L477.00,525.52 L477.50,525.84 L478.00,526.16 L478.50,526.48 L479.00,526.81 L479.50,527.13 L480.00,527.46 L480.50,527.78 L481.00,528.11 L481.50,528.43 L482.00,528.76 L482.50,529.09 L483.00,529.41 L483.50,529.74 L484.00,530.07 L484.50,530.40 L485.00,530.73 L485.50,531.06 L486.00,531.39 L486.50,531.72 L487.00,532.05 L487.50,532.39 L488.00,532.72 L488.50,533.05 L489.00,533.39 L489.50,533.72 L490.00,534.06 L490.50,534.39 L491.00,534.73 L491.50,535.06 L492.00,535.40 L492.50,535.74 L493.00,536.08 L493.50,536.42 L494.00,536.76 L494.50,537.10 L495.00,537.44 L495.50,537.78 L496.00,538.12 L496.50,538.46 L497.00,538.80 L497.50,539.15 L498.00,539.49 L498.50,539.83 L499.00,540.18 L499.50,540.52 L500.00,540.87 L500.50,541.22 L501.00,541.56 L501.50,541.91 L502.00,542.26 L502.50,542.61 L503.00,542.95 L503.50,543.30 L504.00,543.65 L504.50,544.01 L505.00,544.36 L505.50,544.71 L506.00,545.06 L506.50,545.41 L507.00,545.77 L507.50,546.12 L508.00,546.48 L508.50,546.83 L509.00,547.19 L509.50,547.54 L510.00,547.90 L510.50,548.26 L511.00,548.62 L511.50,548.97 L512.00,549.33 L512.50,549.69 L513.00,550.05 L513.50,550.41 L514.00,550.78 L514.50,551.14 L515.00,551.50 L515.50,551.86 L516.00,552.23 L516.50,552.59 L517.00,552.96 L517.50,553.32 L518.00,553.69 L518.50,554.05 L519.00,554.42 L519.50,554.79 L520.00,555.16 L520.50,555.53 L521.00,555.90 L521.50,556.27 L522.00,556.64 L522.50,557.01 L523.00,557.38 L523.50,557.75 L524.00,558.13 L524.50,558.50 L525.00,558.87 L525.50,559.25 L526.00,559.62 L526.50,560.00 L527.00,560.38 L527.50,560.75 L528.00,561.13 L528.50,561.51 L529.00,561.89 L529.50,562.27 L530.00,562.65 L530.50,563.03 L531.00,563.41 L531.50,563.79 L532.00,564.18 L532.50,564.56 L533.00,564.94 L533.50,565.33 L534.00,565.71 L534.50,566.10 L535.00,566.48 L535.50,566.87 L536.00,567.26 L536.50,567.65 L537.00,568.04 L537.50,568.43 L538.00,568.82 L538.50,569.21 L539.00,569.60 L539.50,569.99 L540.00,570.38 L540.50,570.77 L541.00,571.17 L541.50,571.56 L542.00,571.96 L542.50,572.35 L543.00,572.75 L543.50,573.15 L544.00,573.54 L544.50,573.94 L545.00,574.34 L545.50,574.74 L546.00,575.14 L546.50,575.54 L547.00,575.94 L547.50,576.34 L548.00,576.74 L548.50,577.15 L549.00,577.55 L549.50,577.96 L550.00,578.36 L550.50,578.77 L551.00,579.17 L551.50,579.58 L552.00,579.99 L552.50,580.40 L553.00,580.81 L553.50,581.21 L554.00,581.62 L554.50,582.04 L555.00,582.45 L555.50,582.86 L556.00,583.27 L556.50,583.69 L557.00,584.10 L557.50,584.51 L558.00,584.93 L558.50,585.35 L559.00,585.76 L559.50,586.18 L560.00,586.60 L560.50,587.02 L561.00,587.44 L561.50,587.86 L562.00,588.28 L562.50,588.70 L563.00,589.12 L563.50,589.54 L564.00,589.97 L564.50,590.39 L565.00,590.82 L565.50,591.24 L566.00,591.67 L566.50,592.09 L567.00,592.52 L567.50,592.95 L568.00,593.38 L568.50,593.81 L569.00,594.24 L569.50,594.67 L570.00,595.10 L570.50,595.53 L571.00,595.96 L571.50,596.40 L572.00,596.83 L572.50,597.27 L573.00,597.70 L573.50,598.14 L574.00,598.58 L574.50,599.01 L575.00,599.45 L575.50,599.89 L576.00,600.33 L576.50,600.77 L577.00,601.21 L577.50,601.65 L578.00,602.10 L578.50,602.54 L579.00,602.98 L579.50,603.43 L580.00,603.87 L580.50,604.32 L581.00,604.77 L581.50,605.21 L582.00,605.66 L582.50,606.11 L583.00,606.56 L583.50,607.01 L584.00,607.46 L584.50,607.91 L585.00,608.37 L585.50,608.82 L586.00,609.27 L586.50,609.73 L587.00,610.18 L587.50,610.64 L588.00,611.10 L588.50,611.55 L589.00,612.01 L589.50,612.47 L590.00,612.93 L590.50,613.39 L591.00,613.85 L591.50,614.31 L592.00,614.78 L592.50,615.24 L593.00,615.70 L593.50,616.17 L594.00,616.63 L594.50,617.10 L595.00,617.57 L595.50,618.03 L596.00,618.50 L596.50,618.97 L597.00,619.44 L597.50,619.91 L598.00,620.38 L598.50,620.86 L599.00,621.33 L599.50,621.80 L600.00,622.28 L600.50,622.75 L601.00,623.23 L601.50,623.71 L602.00,624.18 L602.50,624.66 L603.00,625.14 L603.50,625.62 L604.00,626.10 L604.50,626.58 L605.00,627.06 L605.50,627.55 L606.00,628.03 L606.50,628.51 L607.00,629.00 L607.50,629.48 L608.00,629.97 L608.50,630.46 L609.00,630.95 L609.50,631.44 L610.00,631.92 L610.50,632.42 L611.00,632.91 L611.50,633.40 L612.00,633.89 L612.50,634.38 L613.00,634.88 L613.50,635.37 L614.00,635.87 L614.50,636.37 L615.00,636.86 L615.50,637.36 L616.00,637.86 L616.50,638.36 L617.00,638.86 L617.50,639.36 L618.00,639.87 L618.50,640.37 L619.00,640.87 L619.50,641.38 L620.00,641.88 L620.50,642.39 L621.00,642.90 L621.50,643.40 L622.00,643.91 L622.50,644.42 L623.00,644.93 L623.50,645.44 L624.00,645.95 L624.50,646.47 L625.00,646.98 L625.50,647.49 L626.00,648.01 L626.50,648.52 L627.00,649.04 L627.50,649.56 L628.00,650.08 L628.50,650.60 L629.00,651.12 L629.50,651.64 L630.00,652.16 L630.50,652.68 L631.00,653.20 L631.50,653.73 L632.00,654.25 L632.50,654.78 L633.00,655.31 L633.50,655.83 L634.00,656.36 L634.50,656.89 L635.00,657.42 L635.50,657.95 L636.00,658.48 L636.50,659.01 L637.00,659.55 L637.50,660.08 L638.00,660.62 L638.50,661.15 L639.00,661.69" fill="none" stroke="#a6a6a6" stroke-width="1.8" stroke-linejoin="round"/>
<path d="M415.50,493.84 L416.00,493.91 L416.50,493.98 L417.00,494.06 L417.50,494.13 L418.00,494.21 L418.50,494.29 L419.00,494.37 L419.50,494.46 L420.00,494.54 L420.50,494.63 L421.00,494.72 L421.50,494.82 L422.00,494.91 L422.50,495.01 L423.00,495.11 L423.50,495.22 L424.00,495.32 L424.50,495.43 L425.00,495.55 L425.50,495.66 L426.00,495.78 L426.50,495.90 L427.00,496.03 L427.50,496.15 L428.00,496.29 L428.50,496.42 L429.00,496.56 L429.50,496.70 L430.00,496.85 L430.50,497.00 L431.00,497.15 L431.50,497.31 L432.00,497.47 L432.50,497.64 L433.00,497.81 L433.50,497.99 L434.00,498.17 L434.50,498.35 L435.00,498.54 L435.50,498.74 L436.00,498.94 L436.50,499.14 L437.00,499.35 L437.50,499.57 L438.00,499.79 L438.50,500.01 L439.00,500.24 L439.50,500.48 L440.00,500.73 L440.50,500.98 L441.00,501.24 L441.50,501.50 L442.00,501.77 L442.50,502.05 L443.00,502.33 L443.50,502.62 L444.00,502.92 L444.50,503.23 L445.00,503.54 L445.50,503.86 L446.00,504.19 L446.50,504.53 L447.00,504.87 L447.50,505.23 L448.00,505.59 L448.50,505.96 L449.00,506.34 L449.50,506.73 L450.00,507.13 L450.50,507.54 L451.00,507.96 L451.50,508.38 L452.00,508.82 L452.50,509.27 L453.00,509.73 L453.50,510.20 L454.00,510.68 L454.50,511.17 L455.00,511.68 L455.50,512.19 L456.00,512.72 L456.50,513.26 L457.00,513.81 L457.50,514.37 L458.00,514.95 L458.50,515.54 L459.00,516.14 L459.50,516.75 L460.00,517.38 L460.50,518.02 L461.00,518.68 L461.50,519.34 L462.00,520.03 L462.50,520.72 L463.00,521.44 L463.50,522.16 L464.00,522.90 L464.50,523.66 L465.00,524.43 L465.50,525.21 L466.00,526.02 L466.50,526.83 L467.00,527.66 L467.50,528.51 L468.00,529.38 L468.50,530.26 L469.00,531.15 L469.50,532.07 L470.00,532.99 L470.50,533.94 L471.00,534.90 L471.50,535.88 L472.00,536.87 L472.50,537.88 L473.00,538.91 L473.50,539.95 L474.00,541.01 L474.50,542.09 L475.00,543.18 L475.50,544.29 L476.00,545.41 L476.50,546.55 L477.00,547.71 L477.50,548.88 L478.00,550.07 L478.50,551.28 L479.00,552.49 L479.50,553.73 L480.00,554.98 L480.50,556.24 L481.00,557.52 L481.50,558.81 L482.00,560.11 L482.50,561.43 L483.00,562.76 L483.50,564.11 L484.00,565.46 L484.50,566.83 L485.00,568.21 L485.50,569.59 L486.00,570.99 L486.50,572.40 L487.00,573.82 L487.50,575.25 L488.00,576.68 L488.50,578.12 L489.00,579.57 L489.50,581.02 L490.00,582.48 L490.50,583.95 L491.00,585.42 L491.50,586.89 L492.00,588.36 L492.50,589.84 L493.00,591.32 L493.50,592.79 L494.00,594.27 L494.50,595.75 L495.00,597.22 L495.50,598.70 L496.00,600.16 L496.50,601.63 L497.00,603.09 L497.50,604.54 L498.00,605.99 L498.50,607.43 L499.00,608.86 L499.50,610.28 L500.00,611.70 L500.50,613.10 L501.00,614.49 L501.50,615.87 L502.00,617.24 L502.50,618.60 L503.00,619.94 L503.50,621.26 L504.00,622.58 L504.50,623.87 L505.00,625.15 L505.50,626.42 L506.00,627.66 L506.50,628.89 L507.00,630.10 L507.50,631.29 L508.00,632.46 L508.50,633.62 L509.00,634.75 L509.50,635.86 L510.00,636.96 L510.50,638.03 L511.00,639.08 L511.50,640.11 L512.00,641.12 L512.50,642.10 L513.00,643.07 L513.50,644.01 L514.00,644.93 L514.50,645.83 L515.00,646.71 L515.50,647.57 L516.00,648.40 L516.50,649.22 L517.00,650.01 L517.50,650.78 L518.00,651.53 L518.50,652.26 L519.00,652.96 L519.50,653.65 L520.00,654.32 L520.50,654.97 L521.00,655.59 L521.50,656.20 L522.00,656.79 L522.50,657.36 L523.00,657.91 L523.50,658.44 L524.00,658.95 L524.50,659.45 L525.00,659.93 L525.50,660.39 L526.00,660.84 L526.50,661.27 L527.00,661.68 L527.50,662.08 L528.00,662.47 L528.50,662.84 L529.00,663.19 L529.50,663.53 L530.00,663.86 L530.50,664.18 L531.00,664.48 L531.50,664.77 L532.00,665.05 L532.50,665.32 L533.00,665.57 L533.50,665.82 L534.00,666.05 L534.50,666.28 L535.00,666.49 L535.50,666.70 L536.00,666.90 L536.50,667.09 L537.00,667.27 L537.50,667.44 L538.00,667.60 L538.50,667.76 L539.00,667.91 L539.50,668.05 L540.00,668.19 L540.50,668.32 L541.00,668.44 L541.50,668.56 L542.00,668.67 L542.50,668.78 L543.00,668.88 L543.50,668.98 L544.00,669.07 L544.50,669.16 L545.00,669.24 L545.50,669.32 L546.00,669.40 L546.50,669.47 L547.00,669.54 L547.50,669.60 L548.00,669.67 L548.50,669.72 L549.00,669.78 L549.50,669.83 L550.00,669.88 L550.50,669.93 L551.00,669.98 L551.50,670.02 L552.00,670.06 L552.50,670.10 L553.00,670.13 L553.50,670.17 L554.00,670.20 L554.50,670.23 L555.00,670.26 L555.50,670.29 L556.00,670.31 L556.50,670.34 L557.00,670.36 L557.50,670.39 L558.00,670.41 L558.50,670.43 L559.00,670.45 L559.50,670.46 L560.00,670.48 L560.50,670.50 L561.00,670.51 L561.50,670.53 L562.00,670.54 L562.50,670.55 L563.00,670.56 L563.50,670.58 L564.00,670.59 L564.50,670.60 L565.00,670.61 L565.50,670.62 L566.00,670.62 L566.50,670.63 L567.00,670.64 L567.50,670.65 L568.00,670.65 L568.50,670.66 L569.00,670.67 L569.50,670.67 L570.00,670.68 L570.50,670.68 L571.00,670.69 L571.50,670.69 L572.00,670.70 L572.50,670.70 L573.00,670.71 L573.50,670.71 L574.00,670.71 L574.50,670.72 L575.00,670.72 L575.50,670.72 L576.00,670.72 L576.50,670.73 L577.00,670.73 L577.50,670.73 L578.00,670.73 L578.50,670.74 L579.00,670.74 L579.50,670.74 L580.00,670.74 L580.50,670.74 L581.00,670.74 L581.50,670.75 L582.00,670.75 L582.50,670.75 L583.00,670.75 L583.50,670.75 L584.00,670.75 L584.50,670.75 L585.00,670.75 L585.50,670.75 L586.00,670.76 L586.50,670.76 L587.00,670.76 L587.50,670.76 L588.00,670.76 L588.50,670.76 L589.00,670.76 L589.50,670.76 L590.00,670.76 L590.50,670.76 L591.00,670.76 L591.50,670.76 L592.00,670.76 L592.50,670.76 L593.00,670.76 L593.50,670.76 L594.00,670.76 L594.50,670.76 L595.00,670.76 L595.50,670.76 L596.00,670.76 L596.50,670.76 L597.00,670.77 L597.50,670.77 L598.00,670.77 L598.50,670.77 L599.00,670.77 L599.50,670.77 L600.00,670.77 L600.50,670.77 L601.00,670.77 L601.50,670.77 L602.00,670.77 L602.50,670.77 L603.00,670.77 L603.50,670.77 L604.00,670.77 L604.50,670.77 L605.00,670.77 L605.50,670.77 L606.00,670.77 L606.50,670.77 L607.00,670.77 L607.50,670.77 L608.00,670.77 L608.50,670.77 L609.00,670.77 L609.50,670.77 L610.00,670.77 L610.50,670.77 L611.00,670.77 L611.50,670.77 L612.00,670.77 L612.50,670.77 L613.00,670.77 L613.50,670.77 L614.00,670.77 L614.50,670.77 L615.00,670.77 L615.50,670.77 L616.00,670.77 L616.50,670.77 L617.00,670.77 L617.50,670.77 L618.00,670.77 L618.50,670.77 L619.00,670.77 L619.50,670.77 L620.00,670.77 L620.50,670.77 L621.00,670.77 L621.50,670.77 L622.00,670.77 L622.50,670.77 L623.00,670.77 L623.50,670.77 L624.00,670.77 L624.50,670.77 L625.00,670.77 L625.50,670.77 L626.00,670.77 L626.50,670.77 L627.00,670.77 L627.50,670.77 L628.00,670.77 L628.50,670.77 L629.00,670.77 L629.50,670.77 L630.00,670.77 L630.50,670.77 L631.00,670.77 L631.50,670.77 L632.00,670.77 L632.50,670.77 L633.00,670.77 L633.50,670.77 L634.00,670.77 L634.50,670.77 L635.00,670.77 L635.50,670.77 L636.00,670.77 L636.50,670.77 L637.00,670.77 L637.50,670.77 L638.00,670.77 L638.50,670.77 L639.00,670.77" fill="none" stroke="#000" stroke-width="2.0" stroke-linejoin="round"/>
<path d="M440.35,476.50 V486.30 M438.15,476.50 H442.55 M438.15,486.30 H442.55" stroke="#0a0ac4" stroke-width="1.6" fill="none"/>
<path d="M465.20,473.70 V497.60 M463.00,473.70 H467.40 M463.00,497.60 H467.40" stroke="#0a0ac4" stroke-width="1.6" fill="none"/>
<path d="M514.90,546.60 V557.90 M512.70,546.60 H517.10 M512.70,557.90 H517.10" stroke="#0a0ac4" stroke-width="1.6" fill="none"/>
<path d="M539.75,609.00 V624.20 M537.55,609.00 H541.95 M537.55,624.20 H541.95" stroke="#0a0ac4" stroke-width="1.6" fill="none"/>
<path d="M564.60,644.60 V652.30 M562.40,644.60 H566.80 M562.40,652.30 H566.80" stroke="#0a0ac4" stroke-width="1.6" fill="none"/>
<circle cx="440.35" cy="483.30" r="2.5" fill="#0a0ac4"/>
<circle cx="465.20" cy="486.30" r="2.5" fill="#0a0ac4"/>
<circle cx="490.05" cy="500.70" r="2.5" fill="#0a0ac4"/>
<circle cx="514.90" cy="548.70" r="2.5" fill="#0a0ac4"/>
<circle cx="539.75" cy="616.50" r="2.5" fill="#0a0ac4"/>
<circle cx="564.60" cy="648.80" r="2.5" fill="#0a0ac4"/>
<circle cx="589.45" cy="662.30" r="2.5" fill="#0a0ac4"/>
<circle cx="614.30" cy="659.30" r="2.5" fill="#0a0ac4"/>
<circle cx="639.15" cy="662.30" r="2.5" fill="#0a0ac4"/>
<path d="M490.05,536.40 V546.60 M487.85,536.40 H492.25 M487.85,546.60 H492.25" stroke="#a6a6a6" stroke-width="1.6" fill="none"/>
<path d="M514.90,550.00 V596.50 M512.70,550.00 H517.10 M512.70,596.50 H517.10" stroke="#a6a6a6" stroke-width="1.6" fill="none"/>
<path d="M539.75,562.00 V578.70 M537.55,562.00 H541.95 M537.55,578.70 H541.95" stroke="#a6a6a6" stroke-width="1.6" fill="none"/>
<path d="M564.60,570.50 V583.40 M562.40,570.50 H566.80 M562.40,583.40 H566.80" stroke="#a6a6a6" stroke-width="1.6" fill="none"/>
<path d="M589.45,582.20 V604.40 M587.25,582.20 H591.65 M587.25,604.40 H591.65" stroke="#a6a6a6" stroke-width="1.6" fill="none"/>
<path d="M614.30,637.00 V648.30 M612.10,637.00 H616.50 M612.10,648.30 H616.50" stroke="#a6a6a6" stroke-width="1.6" fill="none"/>
<path d="M440.35,481.80 L442.35,484.30 L440.35,486.80 L438.35,484.30 Z" fill="#a6a6a6"/>
<path d="M465.20,512.50 L467.20,515.00 L465.20,517.50 L463.20,515.00 Z" fill="#a6a6a6"/>
<path d="M490.05,539.00 L492.05,541.50 L490.05,544.00 L488.05,541.50 Z" fill="#a6a6a6"/>
<path d="M514.90,570.80 L516.90,573.30 L514.90,575.80 L512.90,573.30 Z" fill="#a6a6a6"/>
<path d="M539.75,568.00 L541.75,570.50 L539.75,573.00 L537.75,570.50 Z" fill="#a6a6a6"/>
<path d="M564.60,576.20 L566.60,578.70 L564.60,581.20 L562.60,578.70 Z" fill="#a6a6a6"/>
<path d="M589.45,590.20 L591.45,592.70 L589.45,595.20 L587.45,592.70 Z" fill="#a6a6a6"/>
<path d="M614.30,640.40 L616.30,642.90 L614.30,645.40 L612.30,642.90 Z" fill="#a6a6a6"/>
<path d="M440.35,487.40 V510.90 M438.15,487.40 H442.55 M438.15,510.90 H442.55" stroke="#000" stroke-width="1.6" fill="none"/>
<path d="M465.20,483.50 V514.00 M463.00,483.50 H467.40 M463.00,514.00 H467.40" stroke="#000" stroke-width="1.6" fill="none"/>
<path d="M490.05,491.50 V533.80 M487.85,491.50 H492.25 M487.85,533.80 H492.25" stroke="#000" stroke-width="1.6" fill="none"/>
<path d="M514.90,516.70 V545.90 M512.70,516.70 H517.10 M512.70,545.90 H517.10" stroke="#000" stroke-width="1.6" fill="none"/>
<path d="M539.75,512.50 V558.80 M537.55,512.50 H541.95 M537.55,558.80 H541.95" stroke="#000" stroke-width="1.6" fill="none"/>
<path d="M564.60,558.80 V597.40 M562.40,558.80 H566.80 M562.40,597.40 H566.80" stroke="#000" stroke-width="1.6" fill="none"/>
<path d="M589.45,655.80 V662.80 M587.25,655.80 H591.65 M587.25,662.80 H591.65" stroke="#000" stroke-width="1.6" fill="none"/>
<path d="M438.25,494.99 L442.45,494.99 L440.35,498.56 Z" fill="#000"/>
<path d="M463.10,496.99 L467.30,496.99 L465.20,500.56 Z" fill="#000"/>
<path d="M487.95,510.29 L492.15,510.29 L490.05,513.86 Z" fill="#000"/>
<path d="M512.80,529.59 L517.00,529.59 L514.90,533.16 Z" fill="#000"/>
<path d="M537.65,535.69 L541.85,535.69 L539.75,539.26 Z" fill="#000"/>
<path d="M562.50,594.59 L566.70,594.59 L564.60,598.16 Z" fill="#000"/>
<path d="M587.35,658.79 L591.55,658.79 L589.45,662.36 Z" fill="#000"/>
<path d="M612.20,668.69 L616.40,668.69 L614.30,672.26 Z" fill="#000"/>
<path d="M440.35,489.40 V520.70 M438.15,489.40 H442.55 M438.15,520.70 H442.55" stroke="#000" stroke-width="1.6" fill="none"/>
<path d="M465.20,514.00 V542.60 M463.00,514.00 H467.40 M463.00,542.60 H467.40" stroke="#000" stroke-width="1.6" fill="none"/>
<path d="M490.05,558.90 V596.40 M487.85,558.90 H492.25 M487.85,596.40 H492.25" stroke="#000" stroke-width="1.6" fill="none"/>
<path d="M514.90,636.60 V655.60 M512.70,636.60 H517.10 M512.70,655.60 H517.10" stroke="#000" stroke-width="1.6" fill="none"/>
<circle cx="415.50" cy="487.80" r="2.5" fill="#000"/>
<circle cx="440.35" cy="503.70" r="2.5" fill="#000"/>
<circle cx="465.20" cy="528.20" r="2.5" fill="#000"/>
<circle cx="490.05" cy="578.00" r="2.5" fill="#000"/>
<circle cx="514.90" cy="645.80" r="2.5" fill="#000"/>
<circle cx="539.75" cy="670.30" r="2.5" fill="#000"/>
<circle cx="564.60" cy="670.30" r="2.5" fill="#000"/>
<circle cx="589.45" cy="670.30" r="2.5" fill="#000"/>
<circle cx="614.30" cy="670.30" r="2.5" fill="#000"/>
<circle cx="639.15" cy="670.30" r="2.5" fill="#000"/>
<text x="169.8" y="314.4" text-anchor="middle" font-size="19.7" fill="#262626">concentration [nM]</text>
<text x="516.3" y="314.4" text-anchor="middle" font-size="19.7" fill="#262626">concentration [nM]</text>
<text x="175.6" y="748.5" text-anchor="middle" font-size="19.7" fill="#262626">concentration [nM]</text>
<text x="515.6" y="748.5" text-anchor="middle" font-size="19.7" fill="#262626">concentration [nM]</text>
<text transform="translate(26.3,144.7) rotate(-90)" text-anchor="middle" font-size="19.5" fill="#262626">survival [%]</text>
<text transform="translate(26.3,579.7) rotate(-90)" text-anchor="middle" font-size="19.5" fill="#262626">survival [%]</text>
<path d="M25.00,340.60 H37.60" stroke="#a6a6a6" stroke-width="2.0" stroke-dasharray="2.5,2.5"/>
<circle cx="31.30" cy="340.60" r="2.7" fill="#a6a6a6"/>
<text x="42.3" y="345.0" font-size="14" fill="#262626">MMV048 (IC<tspan font-size="8.6" dy="4.7">50</tspan><tspan dy="-4.7"> = 360 nM; 95% CI = 304-420 nM)</tspan></text>
<path d="M25.00,359.00 H37.60" stroke="#ff8000" stroke-width="2.0"/>
<path d="M28.10,356.55 L34.50,356.55 L31.30,361.99 Z" fill="#ff8000"/>
<text x="42.3" y="363.4" font-size="14" fill="#262626">OZ439 (IC<tspan font-size="8.6" dy="4.7">50</tspan><tspan dy="-4.7"> = n/a; 95% CI = n/a)</tspan></text>
<path d="M25.00,377.40 H37.60" stroke="#0a0ac4" stroke-width="2.0"/>
<circle cx="31.30" cy="377.40" r="2.7" fill="#0a0ac4"/>
<text x="42.3" y="381.8" font-size="14" fill="#262626">MB (IC<tspan font-size="8.6" dy="4.7">50</tspan><tspan dy="-4.7"> = 94 nM; 95% CI = 81-108 nM)</tspan></text>
<path d="M370.10,340.60 H382.60" stroke="#000" stroke-width="2.0"/>
<circle cx="376.35" cy="340.60" r="2.7" fill="#000"/>
<text x="388.4" y="345.0" font-size="14" fill="#262626">KAE609 (IC<tspan font-size="8.6" dy="4.7">50</tspan><tspan dy="-4.7"> = n/a; 95% CI = n/a)</tspan></text>
<path d="M370.10,360.50 H382.60" stroke="#a6a6a6" stroke-width="2.0"/>
<path d="M376.35,357.30 L378.91,360.50 L376.35,363.70 L373.79,360.50 Z" fill="#a6a6a6"/>
<text x="388.4" y="363.4" font-size="14" fill="#262626">KAF156 (IC<tspan font-size="8.6" dy="4.7">50</tspan><tspan dy="-4.7"> = 12 µM; 95% CI = 10-21 µM)</tspan></text>
<path d="M370.10,377.40 H382.60" stroke="#000" stroke-width="2.0" stroke-dasharray="2.5,2.5"/>
<path d="M373.15,374.95 L379.55,374.95 L376.35,380.39 Z" fill="#000"/>
<text x="388.4" y="381.8" font-size="14" fill="#262626">SJ733 (IC<tspan font-size="8.6" dy="4.7">50</tspan><tspan dy="-4.7"> = n/a; 95% CI = n/a)</tspan></text>
<path d="M16.30,773.90 H28.90" stroke="#a6a6a6" stroke-width="2.0" stroke-dasharray="2.5,2.5"/>
<circle cx="22.60" cy="773.90" r="2.7" fill="#a6a6a6"/>
<text x="33.9" y="778.3" font-size="14" fill="#262626">MMV048 (IC<tspan font-size="8.6" dy="4.7">50</tspan><tspan dy="-4.7"> = 247 nM; 95% CI = 185-351 nM)</tspan></text>
<path d="M16.30,792.50 H28.90" stroke="#ff8000" stroke-width="2.0"/>
<path d="M19.40,790.05 L25.80,790.05 L22.60,795.49 Z" fill="#ff8000"/>
<text x="33.9" y="796.9" font-size="14" fill="#262626">OZ439 (IC<tspan font-size="8.6" dy="4.7">50</tspan><tspan dy="-4.7"> = n/a; 95% CI = n/a)</tspan></text>
<path d="M16.30,811.10 H28.90" stroke="#0a0ac4" stroke-width="2.0"/>
<circle cx="22.60" cy="811.10" r="2.7" fill="#0a0ac4"/>
<text x="33.9" y="815.5" font-size="14" fill="#262626">MB (IC<tspan font-size="8.6" dy="4.7">50</tspan><tspan dy="-4.7"> = 78 nM; 95% CI = 64-96 nM)</tspan></text>
<path d="M366.60,773.60 H379.00" stroke="#000" stroke-width="2.0"/>
<circle cx="372.80" cy="773.60" r="2.7" fill="#000"/>
<text x="387.6" y="778.0" font-size="14" fill="#262626">KAE609 (IC<tspan font-size="8.6" dy="4.7">50</tspan><tspan dy="-4.7"> = 12 nM; 95% CI = 8-17 nM)</tspan></text>
<path d="M366.60,793.40 H379.00" stroke="#a6a6a6" stroke-width="2.0"/>
<path d="M372.80,790.20 L375.36,793.40 L372.80,796.60 L370.24,793.40 Z" fill="#a6a6a6"/>
<text x="387.6" y="796.8" font-size="14" fill="#262626">KAF156 (IC<tspan font-size="8.6" dy="4.7">50</tspan><tspan dy="-4.7"> = n/a; 95% CI = n/a)</tspan></text>
<path d="M366.60,811.20 H379.00" stroke="#000" stroke-width="2.0" stroke-dasharray="2.5,2.5"/>
<path d="M369.60,808.75 L376.00,808.75 L372.80,814.19 Z" fill="#000"/>
<text x="387.6" y="815.6" font-size="14" fill="#262626">SJ733 (IC<tspan font-size="8.6" dy="4.7">50</tspan><tspan dy="-4.7"> = 778 nM; 95% CI = 368-2156 nM)</tspan></text>
<rect x="8" y="325" width="331" height="67" fill="none" stroke="#2a2a2a" stroke-width="1.5"/>
<rect x="365" y="325.3" width="319" height="66.5" fill="none" stroke="#2a2a2a" stroke-width="1.5"/>
<rect x="8" y="760" width="330" height="64" fill="none" stroke="#2a2a2a" stroke-width="1.5"/>
<rect x="362" y="760" width="320.70000000000005" height="63.799999999999955" fill="none" stroke="#2a2a2a" stroke-width="1.5"/>
<path d="M69.90,624.70 H82.00" stroke="#a6a6a6" stroke-width="2.0" stroke-dasharray="2.5,2.5"/>
<circle cx="75.95" cy="624.70" r="2.7" fill="#a6a6a6"/>
<text x="89.5" y="628.40" font-size="19.5" fill="#262626">MMV048</text>
<path d="M69.90,639.30 H82.00" stroke="#ff8000" stroke-width="2.0"/>
<path d="M72.75,636.85 L79.15,636.85 L75.95,642.29 Z" fill="#ff8000"/>
<text x="89.5" y="643.00" font-size="19.5" fill="#262626">OZ439</text>
<path d="M69.90,653.90 H82.00" stroke="#0a0ac4" stroke-width="2.0"/>
<circle cx="75.95" cy="653.90" r="2.7" fill="#0a0ac4"/>
<text x="89.5" y="657.60" font-size="19.5" fill="#262626">Methylene Blue</text>
<path d="M409.60,618.60 H422.10" stroke="#000" stroke-width="2.0"/>
<circle cx="415.85" cy="618.60" r="2.7" fill="#000"/>
<text x="427.2" y="623.10" font-size="19.5" fill="#262626">KAE609</text>
<path d="M409.60,633.10 H422.10" stroke="#a6a6a6" stroke-width="2.0"/>
<path d="M415.85,629.90 L418.41,633.10 L415.85,636.30 L413.29,633.10 Z" fill="#a6a6a6"/>
<text x="427.2" y="638.20" font-size="19.5" fill="#262626">KAF156</text>
<path d="M409.60,648.80 H422.10" stroke="#000" stroke-width="2.0" stroke-dasharray="2.5,2.5"/>
<path d="M412.65,646.35 L419.05,646.35 L415.85,651.79 Z" fill="#000"/>
<text x="427.2" y="653.30" font-size="19.5" fill="#262626">SJ377</text>
<path d="M409.60,663.30 H422.10" stroke="#0a0ac4" stroke-width="2.0"/>
<circle cx="415.85" cy="663.30" r="2.7" fill="#0a0ac4"/>
<text x="427.2" y="668.40" font-size="19.5" fill="#262626">Methylene Blue</text>
<g fill="#fff"><rect x="323.27" y="12.92" width="4.02" height="2.78"/><rect x="329.14" y="12.92" width="3.87" height="2.78"/><rect x="331.71" y="447.42" width="4.02" height="2.78"/><rect x="337.58" y="447.42" width="3.87" height="2.78"/><rect x="228.17" y="380.15" width="3.00" height="2.35"/><rect x="232.51" y="380.15" width="2.89" height="2.35"/><rect x="240.63" y="380.15" width="3.00" height="2.35"/><rect x="244.97" y="380.15" width="2.89" height="2.35"/><rect x="416.09" y="361.75" width="3.00" height="2.35"/><rect x="420.43" y="361.75" width="2.89" height="2.35"/><rect x="487.52" y="361.75" width="3.00" height="2.35"/><rect x="491.86" y="361.75" width="2.89" height="2.35"/><rect x="596.35" y="361.75" width="3.00" height="2.35"/><rect x="600.69" y="361.75" width="2.89" height="2.35"/><rect x="624.37" y="361.75" width="3.00" height="2.35"/><rect x="628.71" y="361.75" width="2.89" height="2.35"/><rect x="254.79" y="776.65" width="3.00" height="2.35"/><rect x="259.13" y="776.65" width="2.89" height="2.35"/><rect x="298.38" y="776.65" width="3.00" height="2.35"/><rect x="302.72" y="776.65" width="2.89" height="2.35"/><rect x="487.52" y="776.35" width="3.00" height="2.35"/><rect x="491.86" y="776.35" width="2.89" height="2.35"/><rect x="608.52" y="776.35" width="3.00" height="2.35"/><rect x="612.86" y="776.35" width="2.89" height="2.35"/><rect x="415.29" y="795.15" width="3.00" height="2.35"/><rect x="419.63" y="795.15" width="2.89" height="2.35"/><rect x="627.97" y="813.95" width="3.00" height="2.35"/><rect x="632.31" y="813.95" width="2.89" height="2.35"/><rect x="466.01" y="636.14" width="3.97" height="2.76"/><rect x="471.80" y="636.14" width="3.82" height="2.76"/></g>
</svg>
</body></html>
